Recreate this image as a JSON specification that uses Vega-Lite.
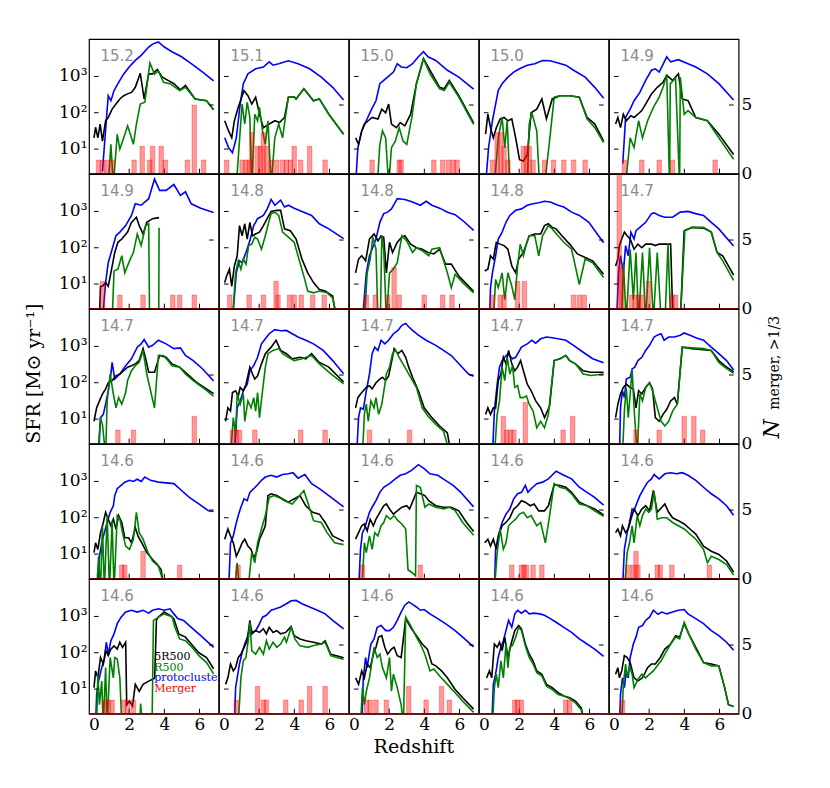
{
  "$schema": "https://vega.github.io/schema/vega-lite/v6.json",
  "background": "white",
  "padding": {"left": 24, "top": 38, "right": 5, "bottom": 5},
  "data": {
    "values": [
      {"p":1,"lab":"15.2"},{"p":2,"lab":"15.1"},{"p":3,"lab":"15.0"},{"p":4,"lab":"15.0"},{"p":5,"lab":"14.9"},
      {"p":6,"lab":"14.9"},{"p":7,"lab":"14.8"},{"p":8,"lab":"14.8"},{"p":9,"lab":"14.8"},{"p":10,"lab":"14.7"},
      {"p":11,"lab":"14.7"},{"p":12,"lab":"14.7"},{"p":13,"lab":"14.7"},{"p":14,"lab":"14.7"},{"p":15,"lab":"14.7"},
      {"p":16,"lab":"14.6"},{"p":17,"lab":"14.6"},{"p":18,"lab":"14.6"},{"p":19,"lab":"14.6"},{"p":20,"lab":"14.6"},
      {"p":21,"lab":"14.6"},{"p":22,"lab":"14.6"},{"p":23,"lab":"14.6"},{"p":24,"lab":"14.6"},{"p":25,"lab":"14.6"},
      {"p":21,"leg":1},

      {"p":1,"s":"a","z":0.48,"v":0.39},{"p":1,"s":"a","z":0.7,"v":1.78},{"p":1,"s":"a","z":0.81,"v":2.47},{"p":1,"s":"a","z":0.96,"v":2.33},{"p":1,"s":"a","z":1.14,"v":2.61},{"p":1,"s":"a","z":1.36,"v":2.8},{"p":1,"s":"a","z":1.69,"v":3.07},{"p":1,"s":"a","z":2.0,"v":3.26},{"p":1,"s":"a","z":2.35,"v":3.44},{"p":1,"s":"a","z":2.68,"v":3.58},{"p":1,"s":"a","z":3.11,"v":3.81},{"p":1,"s":"a","z":3.33,"v":3.89},{"p":1,"s":"a","z":3.66,"v":3.95},{"p":1,"s":"a","z":4.0,"v":3.81},{"p":1,"s":"a","z":4.43,"v":3.68},{"p":1,"s":"a","z":4.98,"v":3.54},{"p":1,"s":"a","z":5.53,"v":3.35},{"p":1,"s":"a","z":6.18,"v":3.12},{"p":1,"s":"a","z":6.8,"v":2.88},
      {"p":1,"s":"b","z":0,"v":1.31},{"p":1,"s":"b","z":0.09,"v":1.6},{"p":1,"s":"b","z":0.22,"v":1.31},{"p":1,"s":"b","z":0.35,"v":1.69},{"p":1,"s":"b","z":0.48,"v":1.22},{"p":1,"s":"b","z":0.66,"v":1.78},{"p":1,"s":"b","z":0.81,"v":1.87},{"p":1,"s":"b","z":1.03,"v":2.1},{"p":1,"s":"b","z":1.25,"v":2.24},{"p":1,"s":"b","z":1.47,"v":2.38},{"p":1,"s":"b","z":1.69,"v":2.47},{"p":1,"s":"b","z":1.91,"v":2.52},{"p":1,"s":"b","z":2.13,"v":2.56},{"p":1,"s":"b","z":2.35,"v":2.7},{"p":1,"s":"b","z":2.63,"v":3.09},{"p":1,"s":"b","z":2.85,"v":2.38},{"p":1,"s":"b","z":3.11,"v":3.07},{"p":1,"s":"b","z":3.33,"v":3.07},{"p":1,"s":"b","z":3.6,"v":3.19},{"p":1,"s":"b","z":3.88,"v":2.98},{"p":1,"s":"b","z":4.21,"v":2.89},{"p":1,"s":"b","z":4.54,"v":2.8},{"p":1,"s":"b","z":4.91,"v":2.63},{"p":1,"s":"b","z":5.2,"v":2.75},{"p":1,"s":"b","z":5.75,"v":2.38},{"p":1,"s":"b","z":6.4,"v":2.33},{"p":1,"s":"b","z":6.8,"v":2.08},
      {"p":1,"s":"c","z":0.81,"v":0},{"p":1,"s":"c","z":0.96,"v":1.13},{"p":1,"s":"c","z":1.1,"v":0},{"p":1,"s":"c","z":1.32,"v":1.41},{"p":1,"s":"c","z":1.47,"v":1.0},{"p":1,"s":"c","z":1.69,"v":1.31},{"p":1,"s":"c","z":1.91,"v":1.64},{"p":1,"s":"c","z":2.13,"v":1.31},{"p":1,"s":"c","z":2.24,"v":1.13},{"p":1,"s":"c","z":2.41,"v":1.69},{"p":1,"s":"c","z":2.63,"v":2.24},{"p":1,"s":"c","z":2.89,"v":2.29},{"p":1,"s":"c","z":3.18,"v":3.37},{"p":1,"s":"c","z":3.44,"v":3.06},{"p":1,"s":"c","z":3.66,"v":3.15},{"p":1,"s":"c","z":3.95,"v":2.84},{"p":1,"s":"c","z":4.32,"v":2.8},{"p":1,"s":"c","z":4.87,"v":2.61},{"p":1,"s":"c","z":5.2,"v":2.7},{"p":1,"s":"c","z":5.75,"v":2.38},{"p":1,"s":"c","z":6.4,"v":2.33},{"p":1,"s":"c","z":6.8,"v":2.08},
      {"p":1,"m":0.26,"n":1},{"p":1,"m":0.48,"n":1},{"p":1,"m":0.75,"n":1},{"p":1,"m":1.03,"n":1},{"p":1,"m":2.28,"n":1},{"p":1,"m":2.74,"n":2},{"p":1,"m":3.16,"n":1},{"p":1,"m":3.33,"n":2},{"p":1,"m":3.82,"n":2},{"p":1,"m":4.06,"n":1},{"p":1,"m":5.31,"n":1},{"p":1,"m":5.7,"n":5},{"p":1,"m":6.23,"n":1},

      {"p":2,"s":"a","z":0.04,"v":1.31},{"p":2,"s":"a","z":0.26,"v":1.04},{"p":2,"s":"a","z":0.48,"v":0.9},{"p":2,"s":"a","z":0.7,"v":1.31},{"p":2,"s":"a","z":0.92,"v":2.24},{"p":2,"s":"a","z":1.1,"v":2.8},{"p":2,"s":"a","z":1.36,"v":3.07},{"p":2,"s":"a","z":1.8,"v":3.21},{"p":2,"s":"a","z":2.24,"v":3.26},{"p":2,"s":"a","z":2.57,"v":3.4},{"p":2,"s":"a","z":2.79,"v":3.31},{"p":2,"s":"a","z":3.11,"v":3.35},{"p":2,"s":"a","z":3.66,"v":3.43},{"p":2,"s":"a","z":4.21,"v":3.35},{"p":2,"s":"a","z":4.87,"v":3.21},{"p":2,"s":"a","z":5.53,"v":2.98},{"p":2,"s":"a","z":6.18,"v":2.7},{"p":2,"s":"a","z":6.8,"v":2.35},
      {"p":2,"s":"b","z":0.04,"v":1.78},{"p":2,"s":"b","z":0.26,"v":1.5},{"p":2,"s":"b","z":0.44,"v":1.31},{"p":2,"s":"b","z":0.59,"v":1.78},{"p":2,"s":"b","z":0.81,"v":2.15},{"p":2,"s":"b","z":1.14,"v":2.61},{"p":2,"s":"b","z":1.36,"v":2.47},{"p":2,"s":"b","z":1.58,"v":2.24},{"p":2,"s":"b","z":1.8,"v":2.43},{"p":2,"s":"b","z":2.02,"v":1.96},{"p":2,"s":"b","z":2.24,"v":1.59},{"p":2,"s":"b","z":2.57,"v":1.69},{"p":2,"s":"b","z":2.89,"v":1.78},{"p":2,"s":"b","z":3.16,"v":1.73},{"p":2,"s":"b","z":3.44,"v":1.87},{"p":2,"s":"b","z":3.66,"v":2.43},{"p":2,"s":"b","z":3.99,"v":2.44},{"p":2,"s":"b","z":4.1,"v":2.38},{"p":2,"s":"b","z":4.54,"v":2.66},{"p":2,"s":"b","z":5.09,"v":2.33},{"p":2,"s":"b","z":5.42,"v":2.38},{"p":2,"s":"b","z":5.96,"v":1.96},{"p":2,"s":"b","z":6.8,"v":1.41},
      {"p":2,"s":"c","z":0.7,"v":0},{"p":2,"s":"c","z":0.92,"v":1.5},{"p":2,"s":"c","z":1.03,"v":2.24},{"p":2,"s":"c","z":1.18,"v":1.69},{"p":2,"s":"c","z":1.32,"v":2.29},{"p":2,"s":"c","z":1.47,"v":1.87},{"p":2,"s":"c","z":1.58,"v":0},{"p":2,"s":"c","z":1.75,"v":1.96},{"p":2,"s":"c","z":1.91,"v":1.78},{"p":2,"s":"c","z":2.02,"v":2.15},{"p":2,"s":"c","z":2.19,"v":1.5},{"p":2,"s":"c","z":2.35,"v":1.13},{"p":2,"s":"c","z":2.5,"v":1.78},{"p":2,"s":"c","z":2.68,"v":0},{"p":2,"s":"c","z":2.89,"v":1.31},{"p":2,"s":"c","z":3.11,"v":1.69},{"p":2,"s":"c","z":3.33,"v":1.31},{"p":2,"s":"c","z":3.49,"v":1.87},{"p":2,"s":"c","z":3.66,"v":2.43},{"p":2,"s":"c","z":3.99,"v":2.44},{"p":2,"s":"c","z":4.1,"v":2.38},{"p":2,"s":"c","z":4.54,"v":2.66},{"p":2,"s":"c","z":5.09,"v":2.33},{"p":2,"s":"c","z":5.42,"v":2.38},{"p":2,"s":"c","z":5.96,"v":1.96},{"p":2,"s":"c","z":6.8,"v":1.41},
      {"p":2,"m":0.15,"n":1},{"p":2,"m":1.03,"n":1},{"p":2,"m":1.25,"n":1},{"p":2,"m":1.43,"n":1},{"p":2,"m":1.58,"n":3},{"p":2,"m":1.91,"n":2},{"p":2,"m":2.08,"n":2},{"p":2,"m":2.24,"n":3},{"p":2,"m":2.41,"n":2},{"p":2,"m":2.68,"n":1},{"p":2,"m":3.0,"n":1},{"p":2,"m":3.33,"n":1},{"p":2,"m":3.55,"n":1},{"p":2,"m":3.77,"n":1},{"p":2,"m":3.99,"n":2},{"p":2,"m":4.36,"n":1},{"p":2,"m":4.87,"n":2},{"p":2,"m":5.75,"n":1},

      {"p":3,"s":"a","z":0.09,"v":0},{"p":3,"s":"a","z":0.22,"v":1.04},{"p":3,"s":"a","z":0.44,"v":1.5},{"p":3,"s":"a","z":0.7,"v":1.78},{"p":3,"s":"a","z":0.96,"v":2.06},{"p":3,"s":"a","z":1.25,"v":2.33},{"p":3,"s":"a","z":1.47,"v":2.8},{"p":3,"s":"a","z":1.69,"v":2.89},{"p":3,"s":"a","z":1.91,"v":2.98},{"p":3,"s":"a","z":2.24,"v":3.12},{"p":3,"s":"a","z":2.46,"v":3.35},{"p":3,"s":"a","z":2.68,"v":3.26},{"p":3,"s":"a","z":3.0,"v":3.24},{"p":3,"s":"a","z":3.33,"v":3.35},{"p":3,"s":"a","z":3.66,"v":3.54},{"p":3,"s":"a","z":3.95,"v":3.68},{"p":3,"s":"a","z":4.21,"v":3.54},{"p":3,"s":"a","z":4.65,"v":3.44},{"p":3,"s":"a","z":5.31,"v":3.17},{"p":3,"s":"a","z":5.96,"v":2.98},{"p":3,"s":"a","z":6.8,"v":2.65},
      {"p":3,"s":"b","z":0.09,"v":1.31},{"p":3,"s":"b","z":0.26,"v":1.13},{"p":3,"s":"b","z":0.44,"v":1.5},{"p":3,"s":"b","z":0.59,"v":1.69},{"p":3,"s":"b","z":0.81,"v":1.78},{"p":3,"s":"b","z":1.03,"v":1.87},{"p":3,"s":"b","z":1.36,"v":1.83},{"p":3,"s":"b","z":1.58,"v":2.1},{"p":3,"s":"b","z":1.8,"v":2.0},{"p":3,"s":"b","z":1.97,"v":2.24},{"p":3,"s":"b","z":2.13,"v":1.69},{"p":3,"s":"b","z":2.41,"v":1.59},{"p":3,"s":"b","z":2.63,"v":1.73},{"p":3,"s":"b","z":2.89,"v":1.64},{"p":3,"s":"b","z":3.22,"v":1.96},{"p":3,"s":"b","z":3.55,"v":2.8},{"p":3,"s":"b","z":3.95,"v":3.49},{"p":3,"s":"b","z":4.32,"v":3.17},{"p":3,"s":"b","z":4.87,"v":2.7},{"p":3,"s":"b","z":5.13,"v":2.66},{"p":3,"s":"b","z":5.42,"v":2.89},{"p":3,"s":"b","z":5.96,"v":2.47},{"p":3,"s":"b","z":6.8,"v":1.72},
      {"p":3,"s":"c","z":1.32,"v":0},{"p":3,"s":"c","z":1.47,"v":1.13},{"p":3,"s":"c","z":1.62,"v":1.5},{"p":3,"s":"c","z":1.8,"v":1.31},{"p":3,"s":"c","z":1.97,"v":0},{"p":3,"s":"c","z":2.13,"v":1.04},{"p":3,"s":"c","z":2.35,"v":1.22},{"p":3,"s":"c","z":2.57,"v":1.59},{"p":3,"s":"c","z":2.79,"v":1.22},{"p":3,"s":"c","z":3.0,"v":1.13},{"p":3,"s":"c","z":3.29,"v":1.87},{"p":3,"s":"c","z":3.55,"v":2.8},{"p":3,"s":"c","z":3.95,"v":3.49},{"p":3,"s":"c","z":4.32,"v":3.07},{"p":3,"s":"c","z":4.87,"v":2.66},{"p":3,"s":"c","z":5.13,"v":2.61},{"p":3,"s":"c","z":5.42,"v":2.84},{"p":3,"s":"c","z":5.96,"v":2.43},{"p":3,"s":"c","z":6.8,"v":1.68},
      {"p":3,"m":1.03,"n":1},{"p":3,"m":2.57,"n":1},{"p":3,"m":2.68,"n":1},{"p":3,"m":4.54,"n":1},{"p":3,"m":5.04,"n":1},{"p":3,"m":5.37,"n":1},{"p":3,"m":5.64,"n":1},{"p":3,"m":5.86,"n":1},

      {"p":4,"s":"a","z":0.09,"v":0},{"p":4,"s":"a","z":0.26,"v":1.04},{"p":4,"s":"a","z":0.48,"v":1.78},{"p":4,"s":"a","z":0.66,"v":2.24},{"p":4,"s":"a","z":0.81,"v":2.61},{"p":4,"s":"a","z":1.03,"v":2.8},{"p":4,"s":"a","z":1.36,"v":2.98},{"p":4,"s":"a","z":1.69,"v":3.12},{"p":4,"s":"a","z":2.02,"v":3.21},{"p":4,"s":"a","z":2.46,"v":3.31},{"p":4,"s":"a","z":2.89,"v":3.35},{"p":4,"s":"a","z":3.33,"v":3.44},{"p":4,"s":"a","z":3.77,"v":3.43},{"p":4,"s":"a","z":4.21,"v":3.37},{"p":4,"s":"a","z":4.65,"v":3.31},{"p":4,"s":"a","z":5.09,"v":3.17},{"p":4,"s":"a","z":5.75,"v":2.98},{"p":4,"s":"a","z":6.3,"v":2.7},{"p":4,"s":"a","z":6.8,"v":2.4},
      {"p":4,"s":"b","z":0.09,"v":1.41},{"p":4,"s":"b","z":0.22,"v":1.96},{"p":4,"s":"b","z":0.37,"v":1.59},{"p":4,"s":"b","z":0.53,"v":1.31},{"p":4,"s":"b","z":0.7,"v":1.59},{"p":4,"s":"b","z":0.92,"v":1.83},{"p":4,"s":"b","z":1.14,"v":1.87},{"p":4,"s":"b","z":1.36,"v":1.78},{"p":4,"s":"b","z":1.58,"v":1.83},{"p":4,"s":"b","z":1.8,"v":1.31},{"p":4,"s":"b","z":2.02,"v":0.71},{"p":4,"s":"b","z":2.24,"v":0.67},{"p":4,"s":"b","z":2.46,"v":0.85},{"p":4,"s":"b","z":2.68,"v":2.0},{"p":4,"s":"b","z":3.0,"v":2.1},{"p":4,"s":"b","z":3.29,"v":2.38},{"p":4,"s":"b","z":3.55,"v":1.83},{"p":4,"s":"b","z":3.88,"v":2.38},{"p":4,"s":"b","z":4.32,"v":2.47},{"p":4,"s":"b","z":4.87,"v":2.47},{"p":4,"s":"b","z":5.42,"v":2.43},{"p":4,"s":"b","z":5.86,"v":1.87},{"p":4,"s":"b","z":6.3,"v":1.69},{"p":4,"s":"b","z":6.8,"v":1.22},
      {"p":4,"s":"c","z":0.59,"v":0},{"p":4,"s":"c","z":0.81,"v":1.31},{"p":4,"s":"c","z":1.03,"v":1.87},{"p":4,"s":"c","z":1.18,"v":1.04},{"p":4,"s":"c","z":1.32,"v":1.78},{"p":4,"s":"c","z":1.47,"v":0},{"p":4,"s":"c","z":2.46,"v":0},{"p":4,"s":"c","z":2.57,"v":1.69},{"p":4,"s":"c","z":2.72,"v":2.0},{"p":4,"s":"c","z":3.0,"v":1.5},{"p":4,"s":"c","z":3.16,"v":0},{"p":4,"s":"c","z":3.44,"v":0},{"p":4,"s":"c","z":3.77,"v":1.41},{"p":4,"s":"c","z":3.99,"v":2.43},{"p":4,"s":"c","z":4.32,"v":2.47},{"p":4,"s":"c","z":4.87,"v":2.47},{"p":4,"s":"c","z":5.42,"v":2.43},{"p":4,"s":"c","z":5.86,"v":1.83},{"p":4,"s":"c","z":6.3,"v":1.59},{"p":4,"s":"c","z":6.8,"v":1.18},
      {"p":4,"m":0.48,"n":1},{"p":4,"m":0.75,"n":3},{"p":4,"m":0.96,"n":3},{"p":4,"m":1.14,"n":2},{"p":4,"m":1.36,"n":1},{"p":4,"m":2.24,"n":2},{"p":4,"m":2.41,"n":2},{"p":4,"m":2.57,"n":2},{"p":4,"m":2.79,"n":1},{"p":4,"m":3.44,"n":1},{"p":4,"m":3.95,"n":1},{"p":4,"m":4.54,"n":1},{"p":4,"m":5.09,"n":1},{"p":4,"m":5.75,"n":1},

      {"p":5,"s":"a","z":0.5,"v":0.6},{"p":5,"s":"a","z":0.66,"v":1.87},{"p":5,"s":"a","z":0.92,"v":2.1},{"p":5,"s":"a","z":1.14,"v":2.33},{"p":5,"s":"a","z":1.47,"v":2.56},{"p":5,"s":"a","z":1.8,"v":2.89},{"p":5,"s":"a","z":2.13,"v":3.17},{"p":5,"s":"a","z":2.35,"v":3.21},{"p":5,"s":"a","z":2.57,"v":3.12},{"p":5,"s":"a","z":3.0,"v":3.54},{"p":5,"s":"a","z":3.22,"v":3.4},{"p":5,"s":"a","z":3.66,"v":3.46},{"p":5,"s":"a","z":4.21,"v":3.35},{"p":5,"s":"a","z":4.65,"v":3.26},{"p":5,"s":"a","z":5.31,"v":3.07},{"p":5,"s":"a","z":5.96,"v":2.8},{"p":5,"s":"a","z":6.8,"v":2.35},
      {"p":5,"s":"b","z":0.09,"v":1.69},{"p":5,"s":"b","z":0.22,"v":1.87},{"p":5,"s":"b","z":0.37,"v":1.59},{"p":5,"s":"b","z":0.53,"v":1.96},{"p":5,"s":"b","z":0.7,"v":1.78},{"p":5,"s":"b","z":0.96,"v":1.92},{"p":5,"s":"b","z":1.14,"v":1.87},{"p":5,"s":"b","z":1.36,"v":1.96},{"p":5,"s":"b","z":1.58,"v":2.06},{"p":5,"s":"b","z":1.8,"v":2.24},{"p":5,"s":"b","z":2.13,"v":2.52},{"p":5,"s":"b","z":2.46,"v":2.7},{"p":5,"s":"b","z":2.79,"v":2.84},{"p":5,"s":"b","z":3.0,"v":3.03},{"p":5,"s":"b","z":3.33,"v":2.89},{"p":5,"s":"b","z":3.66,"v":3.07},{"p":5,"s":"b","z":3.88,"v":2.38},{"p":5,"s":"b","z":4.21,"v":2.33},{"p":5,"s":"b","z":4.65,"v":1.87},{"p":5,"s":"b","z":5.31,"v":1.78},{"p":5,"s":"b","z":5.96,"v":1.41},{"p":5,"s":"b","z":6.8,"v":0.85},
      {"p":5,"s":"c","z":0.66,"v":0},{"p":5,"s":"c","z":0.92,"v":1.31},{"p":5,"s":"c","z":1.14,"v":1.04},{"p":5,"s":"c","z":1.4,"v":1.78},{"p":5,"s":"c","z":1.62,"v":1.31},{"p":5,"s":"c","z":1.91,"v":1.78},{"p":5,"s":"c","z":2.24,"v":2.15},{"p":5,"s":"c","z":2.57,"v":2.43},{"p":5,"s":"c","z":2.79,"v":2.7},{"p":5,"s":"c","z":3.0,"v":3.06},{"p":5,"s":"c","z":3.16,"v":0},{"p":5,"s":"c","z":3.2,"v":2.8},{"p":5,"s":"c","z":3.5,"v":2.95},{"p":5,"s":"c","z":3.73,"v":0},{"p":5,"s":"c","z":3.77,"v":2.98},{"p":5,"s":"c","z":3.99,"v":1.96},{"p":5,"s":"c","z":4.21,"v":2.06},{"p":5,"s":"c","z":4.65,"v":1.87},{"p":5,"s":"c","z":5.31,"v":1.78},{"p":5,"s":"c","z":5.96,"v":1.31},{"p":5,"s":"c","z":6.8,"v":0.72},
      {"p":5,"m":0.59,"n":1},{"p":5,"m":1.58,"n":1},{"p":5,"m":2.57,"n":1},{"p":5,"m":3.33,"n":1},{"p":5,"m":5.75,"n":1},

      {"p":6,"s":"a","z":0.48,"v":0},{"p":6,"s":"a","z":0.66,"v":1.04},{"p":6,"s":"a","z":0.81,"v":1.59},{"p":6,"s":"a","z":1.03,"v":1.96},{"p":6,"s":"a","z":1.25,"v":2.33},{"p":6,"s":"a","z":1.47,"v":2.43},{"p":6,"s":"a","z":1.8,"v":2.61},{"p":6,"s":"a","z":2.13,"v":2.89},{"p":6,"s":"a","z":2.35,"v":3.21},{"p":6,"s":"a","z":2.68,"v":3.17},{"p":6,"s":"a","z":3.11,"v":3.35},{"p":6,"s":"a","z":3.44,"v":3.89},{"p":6,"s":"a","z":3.73,"v":3.58},{"p":6,"s":"a","z":4.1,"v":3.58},{"p":6,"s":"a","z":4.54,"v":3.74},{"p":6,"s":"a","z":4.91,"v":3.44},{"p":6,"s":"a","z":5.2,"v":3.54},{"p":6,"s":"a","z":5.53,"v":3.21},{"p":6,"s":"a","z":6.07,"v":3.09},{"p":6,"s":"a","z":6.8,"v":2.97},
      {"p":6,"s":"b","z":0.3,"v":0},{"p":6,"s":"b","z":0.37,"v":0.94},{"p":6,"s":"b","z":0.48,"v":0.94},{"p":6,"s":"b","z":0.66,"v":1.04},{"p":6,"s":"b","z":0.81,"v":0.94},{"p":6,"s":"b","z":0.96,"v":1.31},{"p":6,"s":"b","z":1.18,"v":1.87},{"p":6,"s":"b","z":1.36,"v":2.15},{"p":6,"s":"b","z":1.58,"v":2.24},{"p":6,"s":"b","z":1.91,"v":2.43},{"p":6,"s":"b","z":2.13,"v":2.7},{"p":6,"s":"b","z":2.41,"v":2.84},{"p":6,"s":"b","z":2.57,"v":2.61},{"p":6,"s":"b","z":2.79,"v":2.38},{"p":6,"s":"b","z":3.0,"v":2.7},{"p":6,"s":"b","z":3.33,"v":2.8},{"p":6,"s":"b","z":3.7,"v":2.83},
      {"p":6,"s":"c","z":1.03,"v":0},{"p":6,"s":"c","z":1.14,"v":1.36},{"p":6,"s":"c","z":1.36,"v":1.41},{"p":6,"s":"c","z":1.58,"v":1.78},{"p":6,"s":"c","z":1.75,"v":1.31},{"p":6,"s":"c","z":2.02,"v":1.64},{"p":6,"s":"c","z":2.24,"v":1.87},{"p":6,"s":"c","z":2.46,"v":2.38},{"p":6,"s":"c","z":2.68,"v":2.06},{"p":6,"s":"c","z":2.94,"v":2.61},{"p":6,"s":"c","z":3.11,"v":2.66},{"p":6,"s":"c","z":3.16,"v":0},{"p":6,"s":"c","z":3.68,"v":0},{"p":6,"s":"c","z":3.7,"v":2.55},
      {"p":6,"m":0.48,"n":2},{"p":6,"m":1.47,"n":1},{"p":6,"m":2.79,"n":1},{"p":6,"m":4.48,"n":1},{"p":6,"m":4.87,"n":1},{"p":6,"m":5.7,"n":1},

      {"p":7,"s":"a","z":0.48,"v":0},{"p":7,"s":"a","z":0.7,"v":1.31},{"p":7,"s":"a","z":0.88,"v":1.64},{"p":7,"s":"a","z":1.03,"v":1.59},{"p":7,"s":"a","z":1.25,"v":1.87},{"p":7,"s":"a","z":1.47,"v":2.19},{"p":7,"s":"a","z":1.69,"v":2.61},{"p":7,"s":"a","z":1.91,"v":2.8},{"p":7,"s":"a","z":2.24,"v":2.89},{"p":7,"s":"a","z":2.46,"v":3.07},{"p":7,"s":"a","z":2.68,"v":3.33},{"p":7,"s":"a","z":2.89,"v":3.17},{"p":7,"s":"a","z":3.22,"v":3.31},{"p":7,"s":"a","z":3.44,"v":3.12},{"p":7,"s":"a","z":3.66,"v":3.17},{"p":7,"s":"a","z":3.99,"v":3.09},{"p":7,"s":"a","z":4.43,"v":3.0},{"p":7,"s":"a","z":4.98,"v":2.89},{"p":7,"s":"a","z":5.42,"v":2.66},{"p":7,"s":"a","z":5.96,"v":2.52},{"p":7,"s":"a","z":6.8,"v":2.25},
      {"p":7,"s":"b","z":0.04,"v":1.04},{"p":7,"s":"b","z":0.15,"v":1.22},{"p":7,"s":"b","z":0.31,"v":1.41},{"p":7,"s":"b","z":0.44,"v":0.94},{"p":7,"s":"b","z":0.59,"v":1.5},{"p":7,"s":"b","z":0.75,"v":1.78},{"p":7,"s":"b","z":0.88,"v":2.61},{"p":7,"s":"b","z":1.03,"v":2.33},{"p":7,"s":"b","z":1.18,"v":2.66},{"p":7,"s":"b","z":1.32,"v":2.24},{"p":7,"s":"b","z":1.47,"v":2.7},{"p":7,"s":"b","z":1.62,"v":2.33},{"p":7,"s":"b","z":1.8,"v":2.38},{"p":7,"s":"b","z":2.02,"v":2.43},{"p":7,"s":"b","z":2.24,"v":2.61},{"p":7,"s":"b","z":2.5,"v":2.84},{"p":7,"s":"b","z":2.68,"v":3.0},{"p":7,"s":"b","z":3.0,"v":3.03},{"p":7,"s":"b","z":3.22,"v":3.03},{"p":7,"s":"b","z":3.44,"v":2.52},{"p":7,"s":"b","z":3.77,"v":2.47},{"p":7,"s":"b","z":4.1,"v":2.24},{"p":7,"s":"b","z":4.43,"v":1.69},{"p":7,"s":"b","z":4.76,"v":1.31},{"p":7,"s":"b","z":5.09,"v":1.04},{"p":7,"s":"b","z":5.42,"v":0.85},{"p":7,"s":"b","z":5.75,"v":0.81},{"p":7,"s":"b","z":6.18,"v":0.67},{"p":7,"s":"b","z":6.4,"v":0},
      {"p":7,"s":"c","z":0.48,"v":0},{"p":7,"s":"c","z":0.66,"v":1.31},{"p":7,"s":"c","z":0.81,"v":1.64},{"p":7,"s":"c","z":0.96,"v":1.41},{"p":7,"s":"c","z":1.1,"v":1.69},{"p":7,"s":"c","z":1.25,"v":1.55},{"p":7,"s":"c","z":1.4,"v":2.06},{"p":7,"s":"c","z":1.58,"v":2.1},{"p":7,"s":"c","z":1.75,"v":2.29},{"p":7,"s":"c","z":1.91,"v":2.24},{"p":7,"s":"c","z":2.13,"v":1.96},{"p":7,"s":"c","z":2.35,"v":2.33},{"p":7,"s":"c","z":2.52,"v":2.66},{"p":7,"s":"c","z":2.68,"v":2.94},{"p":7,"s":"c","z":2.89,"v":2.98},{"p":7,"s":"c","z":3.11,"v":2.89},{"p":7,"s":"c","z":3.33,"v":2.43},{"p":7,"s":"c","z":3.66,"v":2.29},{"p":7,"s":"c","z":3.99,"v":2.15},{"p":7,"s":"c","z":4.32,"v":1.59},{"p":7,"s":"c","z":4.54,"v":1.22},{"p":7,"s":"c","z":4.76,"v":0.81},{"p":7,"s":"c","z":5.09,"v":0.76},{"p":7,"s":"c","z":5.42,"v":0.81},{"p":7,"s":"c","z":5.86,"v":0.76},{"p":7,"s":"c","z":6.18,"v":0.62},{"p":7,"s":"c","z":6.45,"v":0},
      {"p":7,"m":0.33,"n":1},{"p":7,"m":1.43,"n":1},{"p":7,"m":2.24,"n":1},{"p":7,"m":2.96,"n":2},{"p":7,"m":3.07,"n":1},{"p":7,"m":3.73,"n":1},{"p":7,"m":3.99,"n":1},{"p":7,"m":4.39,"n":1},{"p":7,"m":5.04,"n":1},{"p":7,"m":5.7,"n":1},

      {"p":8,"s":"a","z":0.48,"v":0},{"p":8,"s":"a","z":0.7,"v":1.31},{"p":8,"s":"a","z":0.88,"v":1.78},{"p":8,"s":"a","z":1.03,"v":1.96},{"p":8,"s":"a","z":1.25,"v":2.24},{"p":8,"s":"a","z":1.47,"v":2.7},{"p":8,"s":"a","z":1.69,"v":2.94},{"p":8,"s":"a","z":1.91,"v":2.98},{"p":8,"s":"a","z":2.13,"v":3.07},{"p":8,"s":"a","z":2.46,"v":3.35},{"p":8,"s":"a","z":2.89,"v":3.33},{"p":8,"s":"a","z":3.33,"v":3.26},{"p":8,"s":"a","z":3.77,"v":3.17},{"p":8,"s":"a","z":4.1,"v":3.28},{"p":8,"s":"a","z":4.43,"v":3.17},{"p":8,"s":"a","z":4.87,"v":3.09},{"p":8,"s":"a","z":5.31,"v":2.98},{"p":8,"s":"a","z":5.75,"v":2.91},{"p":8,"s":"a","z":6.18,"v":2.75},{"p":8,"s":"a","z":6.8,"v":2.48},
      {"p":8,"s":"b","z":0.09,"v":1.31},{"p":8,"s":"b","z":0.26,"v":1.69},{"p":8,"s":"b","z":0.44,"v":1.78},{"p":8,"s":"b","z":0.66,"v":1.64},{"p":8,"s":"b","z":0.88,"v":2.24},{"p":8,"s":"b","z":1.14,"v":2.38},{"p":8,"s":"b","z":1.36,"v":2.19},{"p":8,"s":"b","z":1.54,"v":2.33},{"p":8,"s":"b","z":1.69,"v":2.29},{"p":8,"s":"b","z":1.84,"v":1.31},{"p":8,"s":"b","z":2.02,"v":2.15},{"p":8,"s":"b","z":2.19,"v":1.87},{"p":8,"s":"b","z":2.46,"v":2.15},{"p":8,"s":"b","z":2.72,"v":2.29},{"p":8,"s":"b","z":2.89,"v":2.33},{"p":8,"s":"b","z":3.22,"v":2.1},{"p":8,"s":"b","z":3.55,"v":2.0},{"p":8,"s":"b","z":3.88,"v":1.96},{"p":8,"s":"b","z":4.21,"v":1.87},{"p":8,"s":"b","z":4.54,"v":1.83},{"p":8,"s":"b","z":4.87,"v":1.96},{"p":8,"s":"b","z":5.2,"v":1.55},{"p":8,"s":"b","z":5.53,"v":1.55},{"p":8,"s":"b","z":5.96,"v":1.22},{"p":8,"s":"b","z":6.8,"v":0.8},
      {"p":8,"s":"c","z":0.59,"v":0},{"p":8,"s":"c","z":0.75,"v":1.31},{"p":8,"s":"c","z":0.92,"v":1.69},{"p":8,"s":"c","z":1.07,"v":2.29},{"p":8,"s":"c","z":1.25,"v":1.96},{"p":8,"s":"c","z":1.36,"v":0},{"p":8,"s":"c","z":1.5,"v":0},{"p":8,"s":"c","z":1.58,"v":2.33},{"p":8,"s":"c","z":1.69,"v":1.96},{"p":8,"s":"c","z":1.84,"v":0},{"p":8,"s":"c","z":2.02,"v":1.31},{"p":8,"s":"c","z":2.24,"v":1.41},{"p":8,"s":"c","z":2.46,"v":1.59},{"p":8,"s":"c","z":2.72,"v":2.33},{"p":8,"s":"c","z":3.0,"v":2.19},{"p":8,"s":"c","z":3.33,"v":1.87},{"p":8,"s":"c","z":3.55,"v":2.0},{"p":8,"s":"c","z":3.88,"v":1.92},{"p":8,"s":"c","z":4.25,"v":1.78},{"p":8,"s":"c","z":4.43,"v":1.96},{"p":8,"s":"c","z":4.87,"v":2.0},{"p":8,"s":"c","z":5.31,"v":1.31},{"p":8,"s":"c","z":5.53,"v":0.9},{"p":8,"s":"c","z":5.75,"v":1.27},{"p":8,"s":"c","z":6.18,"v":1.04},{"p":8,"s":"c","z":6.8,"v":0.76},
      {"p":8,"m":0.7,"n":1},{"p":8,"m":1.21,"n":1},{"p":8,"m":1.91,"n":1},{"p":8,"m":2.28,"n":3},{"p":8,"m":2.57,"n":1},{"p":8,"m":3.99,"n":1},{"p":8,"m":5.04,"n":1},{"p":8,"m":5.57,"n":1},

      {"p":9,"s":"a","z":0.31,"v":0},{"p":9,"s":"a","z":0.37,"v":0.9},{"p":9,"s":"a","z":0.48,"v":1.31},{"p":9,"s":"a","z":0.66,"v":1.78},{"p":9,"s":"a","z":0.81,"v":2.24},{"p":9,"s":"a","z":1.03,"v":2.43},{"p":9,"s":"a","z":1.25,"v":2.7},{"p":9,"s":"a","z":1.47,"v":2.89},{"p":9,"s":"a","z":1.8,"v":3.03},{"p":9,"s":"a","z":2.13,"v":3.07},{"p":9,"s":"a","z":2.46,"v":3.17},{"p":9,"s":"a","z":2.79,"v":3.21},{"p":9,"s":"a","z":3.11,"v":3.24},{"p":9,"s":"a","z":3.44,"v":3.28},{"p":9,"s":"a","z":3.77,"v":3.26},{"p":9,"s":"a","z":4.21,"v":3.17},{"p":9,"s":"a","z":4.54,"v":3.12},{"p":9,"s":"a","z":4.98,"v":2.98},{"p":9,"s":"a","z":5.42,"v":2.89},{"p":9,"s":"a","z":5.96,"v":2.7},{"p":9,"s":"a","z":6.8,"v":2.14},
      {"p":9,"s":"b","z":0.04,"v":1.36},{"p":9,"s":"b","z":0.22,"v":1.41},{"p":9,"s":"b","z":0.37,"v":1.78},{"p":9,"s":"b","z":0.53,"v":1.69},{"p":9,"s":"b","z":0.7,"v":2.15},{"p":9,"s":"b","z":0.92,"v":2.1},{"p":9,"s":"b","z":1.14,"v":2.06},{"p":9,"s":"b","z":1.36,"v":1.96},{"p":9,"s":"b","z":1.58,"v":1.5},{"p":9,"s":"b","z":1.8,"v":1.31},{"p":9,"s":"b","z":1.97,"v":1.69},{"p":9,"s":"b","z":2.24,"v":1.87},{"p":9,"s":"b","z":2.57,"v":2.33},{"p":9,"s":"b","z":2.89,"v":2.38},{"p":9,"s":"b","z":3.22,"v":2.38},{"p":9,"s":"b","z":3.44,"v":2.61},{"p":9,"s":"b","z":3.66,"v":2.66},{"p":9,"s":"b","z":3.88,"v":2.56},{"p":9,"s":"b","z":4.1,"v":2.52},{"p":9,"s":"b","z":4.43,"v":2.33},{"p":9,"s":"b","z":4.87,"v":2.1},{"p":9,"s":"b","z":5.31,"v":1.83},{"p":9,"s":"b","z":5.75,"v":1.73},{"p":9,"s":"b","z":6.18,"v":1.64},{"p":9,"s":"b","z":6.8,"v":1.27},
      {"p":9,"s":"c","z":0.53,"v":0},{"p":9,"s":"c","z":0.66,"v":1.13},{"p":9,"s":"c","z":0.81,"v":0.9},{"p":9,"s":"c","z":1.03,"v":1.31},{"p":9,"s":"c","z":1.18,"v":0.57},{"p":9,"s":"c","z":1.36,"v":1.31},{"p":9,"s":"c","z":1.58,"v":0.94},{"p":9,"s":"c","z":1.75,"v":0.57},{"p":9,"s":"c","z":1.91,"v":1.5},{"p":9,"s":"c","z":2.06,"v":2.1},{"p":9,"s":"c","z":2.24,"v":1.78},{"p":9,"s":"c","z":2.41,"v":2.1},{"p":9,"s":"c","z":2.57,"v":2.33},{"p":9,"s":"c","z":2.89,"v":2.33},{"p":9,"s":"c","z":3.11,"v":1.78},{"p":9,"s":"c","z":3.33,"v":2.33},{"p":9,"s":"c","z":3.66,"v":2.61},{"p":9,"s":"c","z":3.88,"v":2.52},{"p":9,"s":"c","z":4.21,"v":2.33},{"p":9,"s":"c","z":4.54,"v":2.15},{"p":9,"s":"c","z":4.98,"v":1.96},{"p":9,"s":"c","z":5.42,"v":0.99},{"p":9,"s":"c","z":5.75,"v":1.69},{"p":9,"s":"c","z":6.18,"v":1.59},{"p":9,"s":"c","z":6.8,"v":1.18},
      {"p":9,"m":0.48,"n":1},{"p":9,"m":0.92,"n":1},{"p":9,"m":1.14,"n":1},{"p":9,"m":1.91,"n":2},{"p":9,"m":2.3,"n":2},{"p":9,"m":5.09,"n":1},{"p":9,"m":5.42,"n":1},{"p":9,"m":5.7,"n":1},

      {"p":10,"s":"a","z":0.15,"v":0},{"p":10,"s":"a","z":0.26,"v":1.31},{"p":10,"s":"a","z":0.37,"v":1.78},{"p":10,"s":"a","z":0.53,"v":1.31},{"p":10,"s":"a","z":0.66,"v":2.06},{"p":10,"s":"a","z":0.81,"v":1.78},{"p":10,"s":"a","z":0.96,"v":2.43},{"p":10,"s":"a","z":1.14,"v":2.24},{"p":10,"s":"a","z":1.25,"v":2.47},{"p":10,"s":"a","z":1.47,"v":2.56},{"p":10,"s":"a","z":1.8,"v":2.7},{"p":10,"s":"a","z":2.13,"v":2.94},{"p":10,"s":"a","z":2.28,"v":2.96},{"p":10,"s":"a","z":2.57,"v":2.89},{"p":10,"s":"a","z":2.89,"v":2.84},{"p":10,"s":"a","z":3.33,"v":2.84},{"p":10,"s":"a","z":3.77,"v":2.98},{"p":10,"s":"a","z":4.21,"v":3.0},{"p":10,"s":"a","z":4.65,"v":2.94},{"p":10,"s":"a","z":5.09,"v":2.89},{"p":10,"s":"a","z":5.53,"v":2.7},{"p":10,"s":"a","z":5.96,"v":2.52},{"p":10,"s":"a","z":6.8,"v":2.05},
      {"p":10,"s":"b","z":0.09,"v":1.5},{"p":10,"s":"b","z":0.22,"v":1.69},{"p":10,"s":"b","z":0.31,"v":2.06},{"p":10,"s":"b","z":0.44,"v":2.24},{"p":10,"s":"b","z":0.59,"v":2.43},{"p":10,"s":"b","z":0.75,"v":2.33},{"p":10,"s":"b","z":0.92,"v":2.24},{"p":10,"s":"b","z":1.14,"v":1.96},{"p":10,"s":"b","z":1.36,"v":2.1},{"p":10,"s":"b","z":1.58,"v":2.0},{"p":10,"s":"b","z":1.8,"v":2.1},{"p":10,"s":"b","z":2.13,"v":2.1},{"p":10,"s":"b","z":2.35,"v":2.06},{"p":10,"s":"b","z":2.57,"v":2.1},{"p":10,"s":"b","z":2.89,"v":2.1},{"p":10,"s":"b","z":3.22,"v":2.1},{"p":10,"s":"b","z":3.35,"v":0},{"p":10,"s":"b","z":3.77,"v":0},{"p":10,"s":"b","z":3.99,"v":2.47},{"p":10,"s":"b","z":4.43,"v":2.56},{"p":10,"s":"b","z":5.09,"v":2.54},{"p":10,"s":"b","z":5.53,"v":2.43},{"p":10,"s":"b","z":5.86,"v":1.87},{"p":10,"s":"b","z":6.18,"v":1.78},{"p":10,"s":"b","z":6.8,"v":1.25},
      {"p":10,"s":"c","z":0.44,"v":0},{"p":10,"s":"c","z":0.53,"v":1.59},{"p":10,"s":"c","z":0.7,"v":0},{"p":10,"s":"c","z":0.92,"v":1.96},{"p":10,"s":"c","z":1.1,"v":0.57},{"p":10,"s":"c","z":1.25,"v":1.87},{"p":10,"s":"c","z":1.4,"v":0},{"p":10,"s":"c","z":1.62,"v":1.87},{"p":10,"s":"c","z":1.8,"v":0},{"p":10,"s":"c","z":2.02,"v":2.0},{"p":10,"s":"c","z":2.24,"v":0},{"p":10,"s":"c","z":2.46,"v":1.87},{"p":10,"s":"c","z":2.68,"v":0},{"p":10,"s":"c","z":2.9,"v":0},{"p":10,"s":"c","z":3.07,"v":2.1},{"p":10,"s":"c","z":3.22,"v":0},{"p":10,"s":"c","z":3.77,"v":0},{"p":10,"s":"c","z":4.03,"v":2.47},{"p":10,"s":"c","z":4.43,"v":2.56},{"p":10,"s":"c","z":5.09,"v":2.56},{"p":10,"s":"c","z":5.53,"v":2.43},{"p":10,"s":"c","z":5.86,"v":1.87},{"p":10,"s":"c","z":6.18,"v":1.64},{"p":10,"s":"c","z":6.8,"v":1.1},
      {"p":10,"m":0.3,"n":10},{"p":10,"m":0.45,"n":3},{"p":10,"m":1.0,"n":1},{"p":10,"m":1.2,"n":1},{"p":10,"m":1.4,"n":1},{"p":10,"m":1.6,"n":1},{"p":10,"m":1.95,"n":2},{"p":10,"m":3.3,"n":1},{"p":10,"m":3.5,"n":1},

      {"p":11,"s":"a","z":0.26,"v":0},{"p":11,"s":"a","z":0.37,"v":1.04},{"p":11,"s":"a","z":0.53,"v":1.13},{"p":11,"s":"a","z":0.66,"v":1.41},{"p":11,"s":"a","z":0.81,"v":1.78},{"p":11,"s":"a","z":0.96,"v":2.24},{"p":11,"s":"a","z":1.03,"v":2.56},{"p":11,"s":"a","z":1.18,"v":2.1},{"p":11,"s":"a","z":1.47,"v":2.24},{"p":11,"s":"a","z":1.8,"v":2.47},{"p":11,"s":"a","z":2.13,"v":2.66},{"p":11,"s":"a","z":2.46,"v":2.98},{"p":11,"s":"a","z":2.68,"v":3.07},{"p":11,"s":"a","z":2.85,"v":3.19},{"p":11,"s":"a","z":3.11,"v":2.98},{"p":11,"s":"a","z":3.33,"v":3.03},{"p":11,"s":"a","z":3.66,"v":3.17},{"p":11,"s":"a","z":4.1,"v":3.07},{"p":11,"s":"a","z":4.54,"v":2.94},{"p":11,"s":"a","z":4.91,"v":2.96},{"p":11,"s":"a","z":5.2,"v":2.75},{"p":11,"s":"a","z":5.64,"v":2.61},{"p":11,"s":"a","z":6.18,"v":2.38},{"p":11,"s":"a","z":6.8,"v":2.05},
      {"p":11,"s":"b","z":0,"v":0.94},{"p":11,"s":"b","z":0.15,"v":1.31},{"p":11,"s":"b","z":0.31,"v":1.5},{"p":11,"s":"b","z":0.48,"v":1.69},{"p":11,"s":"b","z":0.66,"v":1.83},{"p":11,"s":"b","z":0.81,"v":2.0},{"p":11,"s":"b","z":1.03,"v":2.06},{"p":11,"s":"b","z":1.25,"v":2.19},{"p":11,"s":"b","z":1.47,"v":2.24},{"p":11,"s":"b","z":1.69,"v":2.33},{"p":11,"s":"b","z":1.91,"v":2.43},{"p":11,"s":"b","z":2.13,"v":2.47},{"p":11,"s":"b","z":2.35,"v":2.52},{"p":11,"s":"b","z":2.57,"v":2.61},{"p":11,"s":"b","z":2.79,"v":2.94},{"p":11,"s":"b","z":2.94,"v":2.66},{"p":11,"s":"b","z":3.11,"v":2.29},{"p":11,"s":"b","z":3.44,"v":2.29},{"p":11,"s":"b","z":3.73,"v":2.75},{"p":11,"s":"b","z":4.1,"v":2.7},{"p":11,"s":"b","z":4.43,"v":2.52},{"p":11,"s":"b","z":4.87,"v":2.43},{"p":11,"s":"b","z":5.31,"v":2.24},{"p":11,"s":"b","z":5.86,"v":2.0},{"p":11,"s":"b","z":6.8,"v":1.7},
      {"p":11,"s":"c","z":0.22,"v":0},{"p":11,"s":"c","z":0.37,"v":1.04},{"p":11,"s":"c","z":0.48,"v":0.85},{"p":11,"s":"c","z":0.66,"v":0},{"p":11,"s":"c","z":0.75,"v":1.5},{"p":11,"s":"c","z":0.92,"v":2.24},{"p":11,"s":"c","z":1.1,"v":1.69},{"p":11,"s":"c","z":1.25,"v":1.31},{"p":11,"s":"c","z":1.4,"v":1.59},{"p":11,"s":"c","z":1.58,"v":1.41},{"p":11,"s":"c","z":1.8,"v":1.73},{"p":11,"s":"c","z":1.91,"v":2.06},{"p":11,"s":"c","z":2.13,"v":2.33},{"p":11,"s":"c","z":2.35,"v":2.47},{"p":11,"s":"c","z":2.57,"v":2.56},{"p":11,"s":"c","z":2.79,"v":2.89},{"p":11,"s":"c","z":3.0,"v":2.24},{"p":11,"s":"c","z":3.44,"v":1.31},{"p":11,"s":"c","z":3.66,"v":2.75},{"p":11,"s":"c","z":3.95,"v":2.75},{"p":11,"s":"c","z":4.21,"v":2.61},{"p":11,"s":"c","z":4.43,"v":2.47},{"p":11,"s":"c","z":4.87,"v":2.43},{"p":11,"s":"c","z":5.2,"v":2.24},{"p":11,"s":"c","z":5.64,"v":2.06},{"p":11,"s":"c","z":6.18,"v":1.87},{"p":11,"s":"c","z":6.8,"v":1.63},
      {"p":11,"m":1.36,"n":1},{"p":11,"m":2.24,"n":1},{"p":11,"m":5.7,"n":2},

      {"p":12,"s":"a","z":0.59,"v":0},{"p":12,"s":"a","z":0.75,"v":1.31},{"p":12,"s":"a","z":0.92,"v":1.5},{"p":12,"s":"a","z":1.1,"v":1.78},{"p":12,"s":"a","z":1.32,"v":1.96},{"p":12,"s":"a","z":1.47,"v":2.33},{"p":12,"s":"a","z":1.69,"v":2.47},{"p":12,"s":"a","z":1.91,"v":2.7},{"p":12,"s":"a","z":2.13,"v":3.07},{"p":12,"s":"a","z":2.35,"v":3.21},{"p":12,"s":"a","z":2.57,"v":3.35},{"p":12,"s":"a","z":2.89,"v":3.46},{"p":12,"s":"a","z":3.22,"v":3.43},{"p":12,"s":"a","z":3.55,"v":3.44},{"p":12,"s":"a","z":3.88,"v":3.35},{"p":12,"s":"a","z":4.21,"v":3.26},{"p":12,"s":"a","z":4.65,"v":3.17},{"p":12,"s":"a","z":5.09,"v":3.07},{"p":12,"s":"a","z":5.64,"v":2.89},{"p":12,"s":"a","z":6.18,"v":2.61},{"p":12,"s":"a","z":6.8,"v":2.25},
      {"p":12,"s":"b","z":0.09,"v":0.94},{"p":12,"s":"b","z":0.22,"v":1.31},{"p":12,"s":"b","z":0.37,"v":1.22},{"p":12,"s":"b","z":0.48,"v":1.73},{"p":12,"s":"b","z":0.66,"v":1.78},{"p":12,"s":"b","z":0.81,"v":1.64},{"p":12,"s":"b","z":0.92,"v":1.87},{"p":12,"s":"b","z":1.1,"v":1.78},{"p":12,"s":"b","z":1.25,"v":1.96},{"p":12,"s":"b","z":1.47,"v":2.43},{"p":12,"s":"b","z":1.62,"v":2.24},{"p":12,"s":"b","z":1.75,"v":2.1},{"p":12,"s":"b","z":1.91,"v":2.19},{"p":12,"s":"b","z":2.13,"v":2.52},{"p":12,"s":"b","z":2.35,"v":2.8},{"p":12,"s":"b","z":2.68,"v":2.98},{"p":12,"s":"b","z":2.96,"v":3.17},{"p":12,"s":"b","z":3.22,"v":2.89},{"p":12,"s":"b","z":3.55,"v":2.8},{"p":12,"s":"b","z":3.88,"v":2.66},{"p":12,"s":"b","z":4.32,"v":2.7},{"p":12,"s":"b","z":4.65,"v":2.66},{"p":12,"s":"b","z":4.98,"v":2.8},{"p":12,"s":"b","z":5.42,"v":2.56},{"p":12,"s":"b","z":5.96,"v":2.43},{"p":12,"s":"b","z":6.8,"v":2.02},
      {"p":12,"s":"c","z":0.37,"v":0},{"p":12,"s":"c","z":0.53,"v":1.04},{"p":12,"s":"c","z":0.66,"v":0.57},{"p":12,"s":"c","z":0.75,"v":1.69},{"p":12,"s":"c","z":0.92,"v":1.41},{"p":12,"s":"c","z":1.1,"v":1.69},{"p":12,"s":"c","z":1.18,"v":0.94},{"p":12,"s":"c","z":1.36,"v":1.5},{"p":12,"s":"c","z":1.54,"v":1.31},{"p":12,"s":"c","z":1.69,"v":1.59},{"p":12,"s":"c","z":1.8,"v":1.22},{"p":12,"s":"c","z":1.91,"v":1.73},{"p":12,"s":"c","z":2.02,"v":1.04},{"p":12,"s":"c","z":2.19,"v":1.78},{"p":12,"s":"c","z":2.35,"v":2.43},{"p":12,"s":"c","z":2.5,"v":2.8},{"p":12,"s":"c","z":2.79,"v":2.89},{"p":12,"s":"c","z":3.11,"v":2.94},{"p":12,"s":"c","z":3.33,"v":2.8},{"p":12,"s":"c","z":3.66,"v":2.7},{"p":12,"s":"c","z":3.99,"v":2.61},{"p":12,"s":"c","z":4.43,"v":2.66},{"p":12,"s":"c","z":4.98,"v":2.75},{"p":12,"s":"c","z":5.42,"v":2.52},{"p":12,"s":"c","z":5.96,"v":2.29},{"p":12,"s":"c","z":6.8,"v":1.97},
      {"p":12,"m":0.48,"n":1},{"p":12,"m":0.7,"n":1},{"p":12,"m":0.88,"n":1},{"p":12,"m":1.75,"n":1},{"p":12,"m":4.36,"n":1},{"p":12,"m":5.75,"n":1},

      {"p":13,"s":"a","z":0.15,"v":0},{"p":13,"s":"a","z":0.26,"v":1.04},{"p":13,"s":"a","z":0.37,"v":1.31},{"p":13,"s":"a","z":0.53,"v":1.27},{"p":13,"s":"a","z":0.7,"v":1.78},{"p":13,"s":"a","z":0.88,"v":2.24},{"p":13,"s":"a","z":1.03,"v":2.8},{"p":13,"s":"a","z":1.18,"v":2.98},{"p":13,"s":"a","z":1.36,"v":2.89},{"p":13,"s":"a","z":1.54,"v":3.17},{"p":13,"s":"a","z":1.75,"v":3.07},{"p":13,"s":"a","z":1.97,"v":3.17},{"p":13,"s":"a","z":2.24,"v":3.35},{"p":13,"s":"a","z":2.5,"v":3.44},{"p":13,"s":"a","z":2.72,"v":3.58},{"p":13,"s":"a","z":2.94,"v":3.63},{"p":13,"s":"a","z":3.11,"v":3.54},{"p":13,"s":"a","z":3.33,"v":3.44},{"p":13,"s":"a","z":3.66,"v":3.31},{"p":13,"s":"a","z":4.1,"v":3.17},{"p":13,"s":"a","z":4.65,"v":3.03},{"p":13,"s":"a","z":5.09,"v":2.89},{"p":13,"s":"a","z":5.53,"v":2.75},{"p":13,"s":"a","z":6.07,"v":2.47},{"p":13,"s":"a","z":6.51,"v":2.24},{"p":13,"s":"a","z":6.8,"v":2.18},
      {"p":13,"s":"b","z":0.09,"v":1.31},{"p":13,"s":"b","z":0.22,"v":1.59},{"p":13,"s":"b","z":0.37,"v":1.69},{"p":13,"s":"b","z":0.53,"v":1.78},{"p":13,"s":"b","z":0.7,"v":1.87},{"p":13,"s":"b","z":0.88,"v":1.92},{"p":13,"s":"b","z":1.03,"v":1.83},{"p":13,"s":"b","z":1.25,"v":2.0},{"p":13,"s":"b","z":1.47,"v":2.1},{"p":13,"s":"b","z":1.62,"v":2.15},{"p":13,"s":"b","z":1.8,"v":2.06},{"p":13,"s":"b","z":1.97,"v":2.19},{"p":13,"s":"b","z":2.13,"v":2.56},{"p":13,"s":"b","z":2.28,"v":2.94},{"p":13,"s":"b","z":2.5,"v":2.8},{"p":13,"s":"b","z":2.72,"v":2.89},{"p":13,"s":"b","z":2.94,"v":2.7},{"p":13,"s":"b","z":3.11,"v":2.43},{"p":13,"s":"b","z":3.33,"v":2.15},{"p":13,"s":"b","z":3.66,"v":1.78},{"p":13,"s":"b","z":3.99,"v":1.31},{"p":13,"s":"b","z":4.43,"v":1.04},{"p":13,"s":"b","z":4.87,"v":0.81},{"p":13,"s":"b","z":5.31,"v":0.62},{"p":13,"s":"b","z":5.53,"v":0},
      {"p":13,"s":"c","z":0.48,"v":0},{"p":13,"s":"c","z":0.59,"v":1.13},{"p":13,"s":"c","z":0.7,"v":1.41},{"p":13,"s":"c","z":0.81,"v":0.94},{"p":13,"s":"c","z":0.96,"v":1.5},{"p":13,"s":"c","z":1.14,"v":1.31},{"p":13,"s":"c","z":1.25,"v":1.59},{"p":13,"s":"c","z":1.4,"v":1.13},{"p":13,"s":"c","z":1.58,"v":1.41},{"p":13,"s":"c","z":1.73,"v":1.87},{"p":13,"s":"c","z":1.84,"v":2.24},{"p":13,"s":"c","z":2.02,"v":2.43},{"p":13,"s":"c","z":2.19,"v":2.8},{"p":13,"s":"c","z":2.35,"v":2.91},{"p":13,"s":"c","z":2.57,"v":2.7},{"p":13,"s":"c","z":2.89,"v":2.43},{"p":13,"s":"c","z":3.22,"v":2.15},{"p":13,"s":"c","z":3.55,"v":1.87},{"p":13,"s":"c","z":3.88,"v":1.31},{"p":13,"s":"c","z":4.21,"v":1.08},{"p":13,"s":"c","z":4.65,"v":0.85},{"p":13,"s":"c","z":5.09,"v":0.67},{"p":13,"s":"c","z":5.48,"v":0},
      {"p":13,"m":0.88,"n":1},{"p":13,"m":3.16,"n":1},

      {"p":14,"s":"a","z":0.48,"v":0},{"p":14,"s":"a","z":0.59,"v":1.22},{"p":14,"s":"a","z":0.75,"v":1.96},{"p":14,"s":"a","z":0.88,"v":2.43},{"p":14,"s":"a","z":1.03,"v":2.61},{"p":14,"s":"a","z":1.18,"v":2.7},{"p":14,"s":"a","z":1.36,"v":2.8},{"p":14,"s":"a","z":1.62,"v":2.66},{"p":14,"s":"a","z":1.8,"v":2.7},{"p":14,"s":"a","z":2.13,"v":2.98},{"p":14,"s":"a","z":2.46,"v":3.07},{"p":14,"s":"a","z":2.72,"v":3.17},{"p":14,"s":"a","z":2.94,"v":3.09},{"p":14,"s":"a","z":3.22,"v":3.21},{"p":14,"s":"a","z":3.55,"v":3.26},{"p":14,"s":"a","z":3.88,"v":3.24},{"p":14,"s":"a","z":4.21,"v":3.21},{"p":14,"s":"a","z":4.65,"v":3.17},{"p":14,"s":"a","z":5.09,"v":3.03},{"p":14,"s":"a","z":5.64,"v":2.84},{"p":14,"s":"a","z":6.18,"v":2.66},{"p":14,"s":"a","z":6.8,"v":2.55},
      {"p":14,"s":"b","z":0.09,"v":1.13},{"p":14,"s":"b","z":0.22,"v":1.31},{"p":14,"s":"b","z":0.37,"v":1.13},{"p":14,"s":"b","z":0.53,"v":1.31},{"p":14,"s":"b","z":0.66,"v":1.31},{"p":14,"s":"b","z":0.81,"v":2.06},{"p":14,"s":"b","z":0.96,"v":2.24},{"p":14,"s":"b","z":1.1,"v":2.7},{"p":14,"s":"b","z":1.25,"v":2.52},{"p":14,"s":"b","z":1.4,"v":2.89},{"p":14,"s":"b","z":1.58,"v":2.52},{"p":14,"s":"b","z":1.75,"v":2.33},{"p":14,"s":"b","z":1.91,"v":2.43},{"p":14,"s":"b","z":2.08,"v":2.61},{"p":14,"s":"b","z":2.24,"v":2.33},{"p":14,"s":"b","z":2.46,"v":1.96},{"p":14,"s":"b","z":2.68,"v":1.78},{"p":14,"s":"b","z":2.94,"v":1.5},{"p":14,"s":"b","z":3.22,"v":1.31},{"p":14,"s":"b","z":3.44,"v":1.04},{"p":14,"s":"b","z":3.73,"v":1.36},{"p":14,"s":"b","z":3.99,"v":2.61},{"p":14,"s":"b","z":4.32,"v":2.66},{"p":14,"s":"b","z":4.65,"v":2.75},{"p":14,"s":"b","z":4.87,"v":2.61},{"p":14,"s":"b","z":5.2,"v":2.52},{"p":14,"s":"b","z":5.64,"v":2.33},{"p":14,"s":"b","z":6.07,"v":2.29},{"p":14,"s":"b","z":6.8,"v":2.29},
      {"p":14,"s":"c","z":0.59,"v":0},{"p":14,"s":"c","z":0.75,"v":1.13},{"p":14,"s":"c","z":0.88,"v":1.5},{"p":14,"s":"c","z":1.03,"v":2.43},{"p":14,"s":"c","z":1.18,"v":2.06},{"p":14,"s":"c","z":1.32,"v":2.7},{"p":14,"s":"c","z":1.47,"v":2.24},{"p":14,"s":"c","z":1.62,"v":2.47},{"p":14,"s":"c","z":1.75,"v":1.87},{"p":14,"s":"c","z":1.91,"v":1.92},{"p":14,"s":"c","z":2.06,"v":1.59},{"p":14,"s":"c","z":2.24,"v":1.59},{"p":14,"s":"c","z":2.41,"v":1.64},{"p":14,"s":"c","z":2.57,"v":1.41},{"p":14,"s":"c","z":2.79,"v":1.22},{"p":14,"s":"c","z":3.0,"v":0.76},{"p":14,"s":"c","z":3.22,"v":0.94},{"p":14,"s":"c","z":3.44,"v":0.76},{"p":14,"s":"c","z":3.66,"v":1.13},{"p":14,"s":"c","z":3.99,"v":2.61},{"p":14,"s":"c","z":4.32,"v":2.66},{"p":14,"s":"c","z":4.65,"v":2.75},{"p":14,"s":"c","z":4.87,"v":2.61},{"p":14,"s":"c","z":5.2,"v":2.52},{"p":14,"s":"c","z":5.64,"v":2.24},{"p":14,"s":"c","z":6.07,"v":2.2},{"p":14,"s":"c","z":6.8,"v":2.24},
      {"p":14,"m":1.1,"n":2},{"p":14,"m":1.3,"n":1},{"p":14,"m":1.5,"n":1},{"p":14,"m":1.7,"n":1},{"p":14,"m":2.35,"n":3},{"p":14,"m":4.5,"n":1},{"p":14,"m":5.04,"n":2},

      {"p":15,"s":"a","z":0.31,"v":0},{"p":15,"s":"a","z":0.37,"v":1.31},{"p":15,"s":"a","z":0.48,"v":1.78},{"p":15,"s":"a","z":0.59,"v":1.59},{"p":15,"s":"a","z":0.7,"v":2.1},{"p":15,"s":"a","z":0.92,"v":2.15},{"p":15,"s":"a","z":1.03,"v":2.38},{"p":15,"s":"a","z":1.18,"v":2.43},{"p":15,"s":"a","z":1.36,"v":2.61},{"p":15,"s":"a","z":1.58,"v":2.7},{"p":15,"s":"a","z":1.8,"v":2.89},{"p":15,"s":"a","z":2.02,"v":3.03},{"p":15,"s":"a","z":2.28,"v":3.26},{"p":15,"s":"a","z":2.46,"v":3.31},{"p":15,"s":"a","z":2.68,"v":3.35},{"p":15,"s":"a","z":2.85,"v":3.17},{"p":15,"s":"a","z":3.11,"v":3.26},{"p":15,"s":"a","z":3.44,"v":3.26},{"p":15,"s":"a","z":3.77,"v":3.31},{"p":15,"s":"a","z":3.99,"v":3.37},{"p":15,"s":"a","z":4.32,"v":3.31},{"p":15,"s":"a","z":4.65,"v":3.24},{"p":15,"s":"a","z":5.09,"v":3.17},{"p":15,"s":"a","z":5.53,"v":2.98},{"p":15,"s":"a","z":5.96,"v":2.8},{"p":15,"s":"a","z":6.4,"v":2.61},{"p":15,"s":"a","z":6.8,"v":2.35},
      {"p":15,"s":"b","z":0.09,"v":1.04},{"p":15,"s":"b","z":0.22,"v":1.41},{"p":15,"s":"b","z":0.37,"v":1.69},{"p":15,"s":"b","z":0.53,"v":1.87},{"p":15,"s":"b","z":0.7,"v":1.96},{"p":15,"s":"b","z":0.92,"v":1.87},{"p":15,"s":"b","z":1.1,"v":1.83},{"p":15,"s":"b","z":1.25,"v":1.31},{"p":15,"s":"b","z":1.4,"v":1.78},{"p":15,"s":"b","z":1.58,"v":1.69},{"p":15,"s":"b","z":1.8,"v":1.87},{"p":15,"s":"b","z":2.02,"v":2.0},{"p":15,"s":"b","z":2.19,"v":1.83},{"p":15,"s":"b","z":2.35,"v":1.04},{"p":15,"s":"b","z":2.57,"v":0.94},{"p":15,"s":"b","z":2.79,"v":1.13},{"p":15,"s":"b","z":3.0,"v":1.27},{"p":15,"s":"b","z":3.22,"v":1.5},{"p":15,"s":"b","z":3.44,"v":1.59},{"p":15,"s":"b","z":3.6,"v":1.41},{"p":15,"s":"b","z":3.88,"v":2.98},{"p":15,"s":"b","z":4.43,"v":2.94},{"p":15,"s":"b","z":5.09,"v":2.91},{"p":15,"s":"b","z":5.53,"v":2.89},{"p":15,"s":"b","z":5.96,"v":2.61},{"p":15,"s":"b","z":6.29,"v":2.47},{"p":15,"s":"b","z":6.8,"v":2.3},
      {"p":15,"s":"c","z":0.48,"v":0},{"p":15,"s":"c","z":0.59,"v":1.22},{"p":15,"s":"c","z":0.7,"v":1.87},{"p":15,"s":"c","z":0.81,"v":1.04},{"p":15,"s":"c","z":0.92,"v":1.69},{"p":15,"s":"c","z":1.03,"v":2.38},{"p":15,"s":"c","z":1.14,"v":1.31},{"p":15,"s":"c","z":1.32,"v":0},{"p":15,"s":"c","z":1.47,"v":1.69},{"p":15,"s":"c","z":1.62,"v":1.5},{"p":15,"s":"c","z":1.8,"v":1.87},{"p":15,"s":"c","z":2.02,"v":2.0},{"p":15,"s":"c","z":2.19,"v":1.78},{"p":15,"s":"c","z":2.46,"v":1.31},{"p":15,"s":"c","z":2.68,"v":0.94},{"p":15,"s":"c","z":2.89,"v":0.81},{"p":15,"s":"c","z":3.11,"v":0.94},{"p":15,"s":"c","z":3.33,"v":1.22},{"p":15,"s":"c","z":3.6,"v":1.41},{"p":15,"s":"c","z":3.88,"v":2.98},{"p":15,"s":"c","z":4.43,"v":2.96},{"p":15,"s":"c","z":5.09,"v":2.94},{"p":15,"s":"c","z":5.53,"v":2.89},{"p":15,"s":"c","z":5.96,"v":2.56},{"p":15,"s":"c","z":6.29,"v":2.43},{"p":15,"s":"c","z":6.8,"v":2.26},
      {"p":15,"m":1.25,"n":1},{"p":15,"m":2.57,"n":1},{"p":15,"m":3.99,"n":2},{"p":15,"m":4.54,"n":2},{"p":15,"m":5.04,"n":1},

      {"p":16,"s":"a","z":0.22,"v":0},{"p":16,"s":"a","z":0.31,"v":0.94},{"p":16,"s":"a","z":0.44,"v":1.31},{"p":16,"s":"a","z":0.59,"v":1.59},{"p":16,"s":"a","z":0.75,"v":1.87},{"p":16,"s":"a","z":0.92,"v":2.15},{"p":16,"s":"a","z":1.1,"v":2.33},{"p":16,"s":"a","z":1.18,"v":2.61},{"p":16,"s":"a","z":1.32,"v":2.8},{"p":16,"s":"a","z":1.54,"v":2.89},{"p":16,"s":"a","z":1.75,"v":2.98},{"p":16,"s":"a","z":2.02,"v":3.03},{"p":16,"s":"a","z":2.24,"v":3.0},{"p":16,"s":"a","z":2.46,"v":3.06},{"p":16,"s":"a","z":2.68,"v":3.0},{"p":16,"s":"a","z":2.89,"v":3.12},{"p":16,"s":"a","z":3.22,"v":3.03},{"p":16,"s":"a","z":3.66,"v":2.98},{"p":16,"s":"a","z":4.1,"v":2.96},{"p":16,"s":"a","z":4.54,"v":2.94},{"p":16,"s":"a","z":4.98,"v":2.75},{"p":16,"s":"a","z":5.42,"v":2.56},{"p":16,"s":"a","z":5.96,"v":2.38},{"p":16,"s":"a","z":6.51,"v":2.19},{"p":16,"s":"a","z":6.8,"v":2.17},
      {"p":16,"s":"b","z":0,"v":1.04},{"p":16,"s":"b","z":0.09,"v":1.31},{"p":16,"s":"b","z":0.22,"v":1.13},{"p":16,"s":"b","z":0.37,"v":1.59},{"p":16,"s":"b","z":0.53,"v":1.87},{"p":16,"s":"b","z":0.66,"v":2.15},{"p":16,"s":"b","z":0.81,"v":1.96},{"p":16,"s":"b","z":0.96,"v":1.78},{"p":16,"s":"b","z":1.1,"v":1.96},{"p":16,"s":"b","z":1.25,"v":1.69},{"p":16,"s":"b","z":1.4,"v":2.06},{"p":16,"s":"b","z":1.58,"v":1.87},{"p":16,"s":"b","z":1.75,"v":1.45},{"p":16,"s":"b","z":1.97,"v":1.45},{"p":16,"s":"b","z":2.13,"v":1.31},{"p":16,"s":"b","z":2.35,"v":1.73},{"p":16,"s":"b","z":2.5,"v":1.5},{"p":16,"s":"b","z":2.72,"v":1.31},{"p":16,"s":"b","z":3.0,"v":1.04},{"p":16,"s":"b","z":3.33,"v":0.85},{"p":16,"s":"b","z":3.6,"v":0.71},{"p":16,"s":"b","z":3.82,"v":0.57},{"p":16,"s":"b","z":3.99,"v":0},
      {"p":16,"s":"c","z":0.15,"v":0},{"p":16,"s":"c","z":0.26,"v":0.94},{"p":16,"s":"c","z":0.37,"v":0},{"p":16,"s":"c","z":0.48,"v":1.78},{"p":16,"s":"c","z":0.59,"v":0},{"p":16,"s":"c","z":0.75,"v":2.06},{"p":16,"s":"c","z":0.88,"v":0},{"p":16,"s":"c","z":1.03,"v":1.92},{"p":16,"s":"c","z":1.14,"v":0},{"p":16,"s":"c","z":1.32,"v":2.06},{"p":16,"s":"c","z":1.47,"v":1.96},{"p":16,"s":"c","z":1.62,"v":1.59},{"p":16,"s":"c","z":1.8,"v":1.22},{"p":16,"s":"c","z":2.02,"v":1.13},{"p":16,"s":"c","z":2.24,"v":1.41},{"p":16,"s":"c","z":2.41,"v":2.15},{"p":16,"s":"c","z":2.57,"v":1.59},{"p":16,"s":"c","z":2.79,"v":1.41},{"p":16,"s":"c","z":3.07,"v":1.04},{"p":16,"s":"c","z":3.33,"v":0.81},{"p":16,"s":"c","z":3.66,"v":0.67},{"p":16,"s":"c","z":4.1,"v":0},
      {"p":16,"m":1.58,"n":1},{"p":16,"m":1.75,"n":1},{"p":16,"m":2.79,"n":2},{"p":16,"m":4.87,"n":1},

      {"p":17,"s":"a","z":0.26,"v":0},{"p":17,"s":"a","z":0.37,"v":1.31},{"p":17,"s":"a","z":0.53,"v":1.5},{"p":17,"s":"a","z":0.66,"v":1.78},{"p":17,"s":"a","z":0.81,"v":2.06},{"p":17,"s":"a","z":0.96,"v":2.29},{"p":17,"s":"a","z":1.14,"v":2.52},{"p":17,"s":"a","z":1.32,"v":2.47},{"p":17,"s":"a","z":1.47,"v":2.7},{"p":17,"s":"a","z":1.69,"v":2.8},{"p":17,"s":"a","z":1.91,"v":2.91},{"p":17,"s":"a","z":2.13,"v":3.03},{"p":17,"s":"a","z":2.35,"v":3.12},{"p":17,"s":"a","z":2.68,"v":3.17},{"p":17,"s":"a","z":3.0,"v":3.12},{"p":17,"s":"a","z":3.33,"v":3.19},{"p":17,"s":"a","z":3.66,"v":3.21},{"p":17,"s":"a","z":3.92,"v":3.24},{"p":17,"s":"a","z":4.21,"v":3.09},{"p":17,"s":"a","z":4.6,"v":3.19},{"p":17,"s":"a","z":4.98,"v":2.94},{"p":17,"s":"a","z":5.42,"v":2.8},{"p":17,"s":"a","z":5.96,"v":2.61},{"p":17,"s":"a","z":6.8,"v":2.3},
      {"p":17,"s":"b","z":0.04,"v":1.41},{"p":17,"s":"b","z":0.22,"v":1.69},{"p":17,"s":"b","z":0.37,"v":1.5},{"p":17,"s":"b","z":0.53,"v":1.31},{"p":17,"s":"b","z":0.7,"v":0.94},{"p":17,"s":"b","z":0.88,"v":1.13},{"p":17,"s":"b","z":1.03,"v":1.31},{"p":17,"s":"b","z":1.18,"v":1.41},{"p":17,"s":"b","z":1.36,"v":1.22},{"p":17,"s":"b","z":1.54,"v":1.13},{"p":17,"s":"b","z":1.69,"v":0.9},{"p":17,"s":"b","z":1.84,"v":1.04},{"p":17,"s":"b","z":2.02,"v":1.41},{"p":17,"s":"b","z":2.19,"v":1.59},{"p":17,"s":"b","z":2.35,"v":1.78},{"p":17,"s":"b","z":2.5,"v":2.61},{"p":17,"s":"b","z":2.68,"v":2.66},{"p":17,"s":"b","z":3.0,"v":2.61},{"p":17,"s":"b","z":3.33,"v":2.52},{"p":17,"s":"b","z":3.66,"v":2.43},{"p":17,"s":"b","z":3.99,"v":2.52},{"p":17,"s":"b","z":4.32,"v":2.61},{"p":17,"s":"b","z":4.65,"v":2.33},{"p":17,"s":"b","z":5.04,"v":2.15},{"p":17,"s":"b","z":5.42,"v":2.1},{"p":17,"s":"b","z":5.75,"v":1.87},{"p":17,"s":"b","z":6.18,"v":1.5},{"p":17,"s":"b","z":6.8,"v":1.35},
      {"p":17,"s":"c","z":0.59,"v":0},{"p":17,"s":"c","z":0.75,"v":0.76},{"p":17,"s":"c","z":0.88,"v":0},{"p":17,"s":"c","z":1.36,"v":0},{"p":17,"s":"c","z":1.58,"v":1.04},{"p":17,"s":"c","z":1.75,"v":0.76},{"p":17,"s":"c","z":1.91,"v":1.31},{"p":17,"s":"c","z":2.13,"v":1.69},{"p":17,"s":"c","z":2.35,"v":2.06},{"p":17,"s":"c","z":2.57,"v":2.56},{"p":17,"s":"c","z":2.85,"v":2.61},{"p":17,"s":"c","z":3.11,"v":2.56},{"p":17,"s":"c","z":3.44,"v":2.47},{"p":17,"s":"c","z":3.88,"v":2.38},{"p":17,"s":"c","z":4.21,"v":2.56},{"p":17,"s":"c","z":4.54,"v":2.75},{"p":17,"s":"c","z":4.76,"v":2.43},{"p":17,"s":"c","z":5.09,"v":1.92},{"p":17,"s":"c","z":5.53,"v":1.87},{"p":17,"s":"c","z":5.86,"v":1.59},{"p":17,"s":"c","z":6.29,"v":1.31},{"p":17,"s":"c","z":6.8,"v":1.26},
      {"p":17,"m":0.8,"n":1},

      {"p":18,"s":"a","z":0.26,"v":0},{"p":18,"s":"a","z":0.37,"v":1.13},{"p":18,"s":"a","z":0.48,"v":1.59},{"p":18,"s":"a","z":0.59,"v":1.69},{"p":18,"s":"a","z":0.7,"v":1.87},{"p":18,"s":"a","z":0.88,"v":2.15},{"p":18,"s":"a","z":1.03,"v":2.29},{"p":18,"s":"a","z":1.25,"v":2.47},{"p":18,"s":"a","z":1.47,"v":2.7},{"p":18,"s":"a","z":1.69,"v":2.84},{"p":18,"s":"a","z":2.02,"v":2.94},{"p":18,"s":"a","z":2.35,"v":3.07},{"p":18,"s":"a","z":2.63,"v":3.17},{"p":18,"s":"a","z":2.94,"v":3.21},{"p":18,"s":"a","z":3.29,"v":3.31},{"p":18,"s":"a","z":3.66,"v":3.46},{"p":18,"s":"a","z":3.99,"v":3.35},{"p":18,"s":"a","z":4.32,"v":3.21},{"p":18,"s":"a","z":4.76,"v":3.17},{"p":18,"s":"a","z":5.2,"v":3.03},{"p":18,"s":"a","z":5.64,"v":2.89},{"p":18,"s":"a","z":6.07,"v":2.7},{"p":18,"s":"a","z":6.8,"v":2.3},
      {"p":18,"s":"b","z":0.09,"v":1.41},{"p":18,"s":"b","z":0.26,"v":1.59},{"p":18,"s":"b","z":0.44,"v":1.78},{"p":18,"s":"b","z":0.59,"v":1.83},{"p":18,"s":"b","z":0.75,"v":1.64},{"p":18,"s":"b","z":0.92,"v":1.96},{"p":18,"s":"b","z":1.1,"v":1.78},{"p":18,"s":"b","z":1.25,"v":1.96},{"p":18,"s":"b","z":1.47,"v":2.15},{"p":18,"s":"b","z":1.69,"v":2.33},{"p":18,"s":"b","z":1.84,"v":2.38},{"p":18,"s":"b","z":2.02,"v":2.24},{"p":18,"s":"b","z":2.24,"v":2.1},{"p":18,"s":"b","z":2.46,"v":2.19},{"p":18,"s":"b","z":2.72,"v":2.29},{"p":18,"s":"b","z":3.0,"v":2.33},{"p":18,"s":"b","z":3.16,"v":2.24},{"p":18,"s":"b","z":3.55,"v":2.7},{"p":18,"s":"b","z":3.77,"v":2.66},{"p":18,"s":"b","z":4.03,"v":2.61},{"p":18,"s":"b","z":4.25,"v":2.47},{"p":18,"s":"b","z":4.65,"v":2.33},{"p":18,"s":"b","z":5.09,"v":2.29},{"p":18,"s":"b","z":5.53,"v":2.29},{"p":18,"s":"b","z":5.96,"v":2.19},{"p":18,"s":"b","z":6.4,"v":1.87},{"p":18,"s":"b","z":6.8,"v":1.62},
      {"p":18,"s":"c","z":0.44,"v":0},{"p":18,"s":"c","z":0.59,"v":1.31},{"p":18,"s":"c","z":0.7,"v":1.04},{"p":18,"s":"c","z":0.88,"v":1.5},{"p":18,"s":"c","z":1.03,"v":1.13},{"p":18,"s":"c","z":1.18,"v":1.59},{"p":18,"s":"c","z":1.36,"v":1.5},{"p":18,"s":"c","z":1.54,"v":1.78},{"p":18,"s":"c","z":1.69,"v":1.87},{"p":18,"s":"c","z":1.84,"v":2.06},{"p":18,"s":"c","z":2.06,"v":1.96},{"p":18,"s":"c","z":2.28,"v":2.06},{"p":18,"s":"c","z":2.5,"v":1.92},{"p":18,"s":"c","z":2.72,"v":1.83},{"p":18,"s":"c","z":2.94,"v":1.69},{"p":18,"s":"c","z":3.07,"v":0.57},{"p":18,"s":"c","z":3.33,"v":0.48},{"p":18,"s":"c","z":3.5,"v":0.4},{"p":18,"s":"c","z":3.55,"v":2.89},{"p":18,"s":"c","z":3.77,"v":2.84},{"p":18,"s":"c","z":4.03,"v":2.29},{"p":18,"s":"c","z":4.25,"v":2.38},{"p":18,"s":"c","z":4.65,"v":2.29},{"p":18,"s":"c","z":5.09,"v":2.24},{"p":18,"s":"c","z":5.42,"v":2.29},{"p":18,"s":"c","z":5.75,"v":2.2},{"p":18,"s":"c","z":6.18,"v":1.87},{"p":18,"s":"c","z":6.8,"v":1.52},
      {"p":18,"m":0.48,"n":1},{"p":18,"m":3.77,"n":1},

      {"p":19,"s":"a","z":0.59,"v":0},{"p":19,"s":"a","z":0.66,"v":1.13},{"p":19,"s":"a","z":0.81,"v":1.5},{"p":19,"s":"a","z":1.03,"v":1.87},{"p":19,"s":"a","z":1.25,"v":2.1},{"p":19,"s":"a","z":1.47,"v":2.24},{"p":19,"s":"a","z":1.69,"v":2.52},{"p":19,"s":"a","z":1.91,"v":2.66},{"p":19,"s":"a","z":2.13,"v":2.7},{"p":19,"s":"a","z":2.35,"v":2.89},{"p":19,"s":"a","z":2.5,"v":2.7},{"p":19,"s":"a","z":2.68,"v":2.8},{"p":19,"s":"a","z":3.0,"v":2.94},{"p":19,"s":"a","z":3.33,"v":2.98},{"p":19,"s":"a","z":3.66,"v":3.07},{"p":19,"s":"a","z":4.1,"v":3.28},{"p":19,"s":"a","z":4.54,"v":3.17},{"p":19,"s":"a","z":4.98,"v":3.07},{"p":19,"s":"a","z":5.42,"v":2.84},{"p":19,"s":"a","z":5.86,"v":2.7},{"p":19,"s":"a","z":6.29,"v":2.56},{"p":19,"s":"a","z":6.8,"v":2.35},
      {"p":19,"s":"b","z":0.04,"v":1.31},{"p":19,"s":"b","z":0.22,"v":1.41},{"p":19,"s":"b","z":0.37,"v":1.22},{"p":19,"s":"b","z":0.53,"v":1.41},{"p":19,"s":"b","z":0.7,"v":1.13},{"p":19,"s":"b","z":0.88,"v":1.59},{"p":19,"s":"b","z":1.03,"v":1.78},{"p":19,"s":"b","z":1.25,"v":1.87},{"p":19,"s":"b","z":1.47,"v":2.0},{"p":19,"s":"b","z":1.69,"v":2.24},{"p":19,"s":"b","z":1.91,"v":2.33},{"p":19,"s":"b","z":2.13,"v":2.47},{"p":19,"s":"b","z":2.35,"v":2.43},{"p":19,"s":"b","z":2.63,"v":2.33},{"p":19,"s":"b","z":2.85,"v":2.38},{"p":19,"s":"b","z":3.11,"v":2.19},{"p":19,"s":"b","z":3.44,"v":2.19},{"p":19,"s":"b","z":3.66,"v":2.33},{"p":19,"s":"b","z":3.99,"v":2.91},{"p":19,"s":"b","z":4.32,"v":2.89},{"p":19,"s":"b","z":4.65,"v":2.84},{"p":19,"s":"b","z":4.98,"v":2.7},{"p":19,"s":"b","z":5.42,"v":2.43},{"p":19,"s":"b","z":5.86,"v":2.33},{"p":19,"s":"b","z":6.29,"v":2.24},{"p":19,"s":"b","z":6.8,"v":2.08},
      {"p":19,"s":"c","z":0.59,"v":0},{"p":19,"s":"c","z":0.75,"v":1.04},{"p":19,"s":"c","z":0.92,"v":1.69},{"p":19,"s":"c","z":1.1,"v":1.13},{"p":19,"s":"c","z":1.25,"v":1.31},{"p":19,"s":"c","z":1.4,"v":1.78},{"p":19,"s":"c","z":1.58,"v":1.87},{"p":19,"s":"c","z":1.8,"v":1.96},{"p":19,"s":"c","z":2.02,"v":2.1},{"p":19,"s":"c","z":2.24,"v":2.15},{"p":19,"s":"c","z":2.46,"v":2.0},{"p":19,"s":"c","z":2.68,"v":2.06},{"p":19,"s":"c","z":3.0,"v":1.78},{"p":19,"s":"c","z":3.22,"v":1.87},{"p":19,"s":"c","z":3.49,"v":1.31},{"p":19,"s":"c","z":3.73,"v":2.06},{"p":19,"s":"c","z":3.99,"v":2.94},{"p":19,"s":"c","z":4.32,"v":2.84},{"p":19,"s":"c","z":4.65,"v":2.8},{"p":19,"s":"c","z":4.98,"v":2.66},{"p":19,"s":"c","z":5.42,"v":2.38},{"p":19,"s":"c","z":5.86,"v":2.33},{"p":19,"s":"c","z":6.29,"v":2.19},{"p":19,"s":"c","z":6.8,"v":2.04},
      {"p":19,"m":1.58,"n":1},{"p":19,"m":2.13,"n":1},{"p":19,"m":2.28,"n":1},{"p":19,"m":2.41,"n":1},{"p":19,"m":2.79,"n":1},{"p":19,"m":3.29,"n":1},

      {"p":20,"s":"a","z":0.48,"v":0},{"p":20,"s":"a","z":0.59,"v":1.13},{"p":20,"s":"a","z":0.75,"v":1.59},{"p":20,"s":"a","z":0.88,"v":1.87},{"p":20,"s":"a","z":1.03,"v":2.24},{"p":20,"s":"a","z":1.14,"v":2.19},{"p":20,"s":"a","z":1.32,"v":2.43},{"p":20,"s":"a","z":1.47,"v":2.61},{"p":20,"s":"a","z":1.69,"v":2.8},{"p":20,"s":"a","z":1.91,"v":2.98},{"p":20,"s":"a","z":2.13,"v":3.07},{"p":20,"s":"a","z":2.28,"v":3.19},{"p":20,"s":"a","z":2.57,"v":3.07},{"p":20,"s":"a","z":2.89,"v":3.21},{"p":20,"s":"a","z":3.22,"v":3.24},{"p":20,"s":"a","z":3.55,"v":3.21},{"p":20,"s":"a","z":3.88,"v":3.24},{"p":20,"s":"a","z":4.21,"v":3.17},{"p":20,"s":"a","z":4.65,"v":3.03},{"p":20,"s":"a","z":5.09,"v":2.84},{"p":20,"s":"a","z":5.53,"v":2.66},{"p":20,"s":"a","z":5.96,"v":2.52},{"p":20,"s":"a","z":6.4,"v":2.33},{"p":20,"s":"a","z":6.8,"v":2.07},
      {"p":20,"s":"b","z":0.09,"v":1.59},{"p":20,"s":"b","z":0.22,"v":1.69},{"p":20,"s":"b","z":0.37,"v":1.5},{"p":20,"s":"b","z":0.48,"v":1.78},{"p":20,"s":"b","z":0.66,"v":1.59},{"p":20,"s":"b","z":0.81,"v":1.69},{"p":20,"s":"b","z":0.96,"v":1.96},{"p":20,"s":"b","z":1.14,"v":2.24},{"p":20,"s":"b","z":1.36,"v":2.06},{"p":20,"s":"b","z":1.58,"v":2.24},{"p":20,"s":"b","z":1.8,"v":2.33},{"p":20,"s":"b","z":2.02,"v":2.19},{"p":20,"s":"b","z":2.24,"v":2.75},{"p":20,"s":"b","z":2.46,"v":2.15},{"p":20,"s":"b","z":2.72,"v":2.29},{"p":20,"s":"b","z":2.89,"v":2.38},{"p":20,"s":"b","z":3.11,"v":2.15},{"p":20,"s":"b","z":3.33,"v":2.0},{"p":20,"s":"b","z":3.66,"v":1.92},{"p":20,"s":"b","z":3.99,"v":1.83},{"p":20,"s":"b","z":4.32,"v":1.69},{"p":20,"s":"b","z":4.65,"v":1.55},{"p":20,"s":"b","z":5.09,"v":1.22},{"p":20,"s":"b","z":5.53,"v":1.08},{"p":20,"s":"b","z":5.96,"v":0.99},{"p":20,"s":"b","z":6.4,"v":0.81},{"p":20,"s":"b","z":6.8,"v":0.5},
      {"p":20,"s":"c","z":0.59,"v":0},{"p":20,"s":"c","z":0.75,"v":1.04},{"p":20,"s":"c","z":0.88,"v":1.31},{"p":20,"s":"c","z":1.03,"v":1.78},{"p":20,"s":"c","z":1.14,"v":1.31},{"p":20,"s":"c","z":1.32,"v":2.06},{"p":20,"s":"c","z":1.47,"v":1.78},{"p":20,"s":"c","z":1.62,"v":2.06},{"p":20,"s":"c","z":1.8,"v":2.24},{"p":20,"s":"c","z":1.97,"v":2.15},{"p":20,"s":"c","z":2.13,"v":2.24},{"p":20,"s":"c","z":2.28,"v":2.72},{"p":20,"s":"c","z":2.46,"v":1.96},{"p":20,"s":"c","z":2.72,"v":2.0},{"p":20,"s":"c","z":3.0,"v":2.0},{"p":20,"s":"c","z":3.33,"v":1.87},{"p":20,"s":"c","z":3.66,"v":1.78},{"p":20,"s":"c","z":3.99,"v":1.69},{"p":20,"s":"c","z":4.32,"v":1.55},{"p":20,"s":"c","z":4.65,"v":1.41},{"p":20,"s":"c","z":5.09,"v":1.13},{"p":20,"s":"c","z":5.31,"v":0.76},{"p":20,"s":"c","z":5.53,"v":0.94},{"p":20,"s":"c","z":5.96,"v":0.85},{"p":20,"s":"c","z":6.4,"v":0.71},{"p":20,"s":"c","z":6.8,"v":0.42},
      {"p":20,"m":0.81,"n":1},{"p":20,"m":1.1,"n":1},{"p":20,"m":1.25,"n":2},{"p":20,"m":1.36,"n":1},{"p":20,"m":2.46,"n":1},{"p":20,"m":2.63,"n":1},{"p":20,"m":3.29,"n":1},{"p":20,"m":5.42,"n":1},

      {"p":21,"s":"a","z":0.09,"v":0},{"p":21,"s":"a","z":0.15,"v":0.85},{"p":21,"s":"a","z":0.26,"v":1.22},{"p":21,"s":"a","z":0.44,"v":1.59},{"p":21,"s":"a","z":0.59,"v":1.83},{"p":21,"s":"a","z":0.7,"v":2.29},{"p":21,"s":"a","z":0.81,"v":1.96},{"p":21,"s":"a","z":0.96,"v":2.33},{"p":21,"s":"a","z":1.14,"v":2.52},{"p":21,"s":"a","z":1.32,"v":2.8},{"p":21,"s":"a","z":1.54,"v":2.98},{"p":21,"s":"a","z":1.8,"v":3.12},{"p":21,"s":"a","z":2.13,"v":3.17},{"p":21,"s":"a","z":2.46,"v":3.12},{"p":21,"s":"a","z":2.79,"v":3.17},{"p":21,"s":"a","z":3.11,"v":3.09},{"p":21,"s":"a","z":3.33,"v":3.17},{"p":21,"s":"a","z":3.66,"v":3.21},{"p":21,"s":"a","z":3.99,"v":3.17},{"p":21,"s":"a","z":4.32,"v":3.21},{"p":21,"s":"a","z":4.54,"v":3.07},{"p":21,"s":"a","z":4.76,"v":2.94},{"p":21,"s":"a","z":5.09,"v":2.89},{"p":21,"s":"a","z":5.53,"v":2.7},{"p":21,"s":"a","z":6.07,"v":2.47},{"p":21,"s":"a","z":6.8,"v":2.15},
      {"p":21,"s":"b","z":0,"v":1.04},{"p":21,"s":"b","z":0.09,"v":1.5},{"p":21,"s":"b","z":0.22,"v":1.31},{"p":21,"s":"b","z":0.37,"v":1.87},{"p":21,"s":"b","z":0.53,"v":1.69},{"p":21,"s":"b","z":0.66,"v":2.06},{"p":21,"s":"b","z":0.81,"v":1.92},{"p":21,"s":"b","z":0.96,"v":2.1},{"p":21,"s":"b","z":1.14,"v":2.19},{"p":21,"s":"b","z":1.32,"v":2.1},{"p":21,"s":"b","z":1.47,"v":2.29},{"p":21,"s":"b","z":1.62,"v":2.15},{"p":21,"s":"b","z":1.8,"v":2.29},{"p":21,"s":"b","z":1.86,"v":0.57},{"p":21,"s":"b","z":2.02,"v":0.67},{"p":21,"s":"b","z":2.19,"v":0.53},{"p":21,"s":"b","z":2.35,"v":1.13},{"p":21,"s":"b","z":2.57,"v":0.94},{"p":21,"s":"b","z":2.79,"v":1.13},{"p":21,"s":"b","z":3.11,"v":1.22},{"p":21,"s":"b","z":3.33,"v":1.27},{"p":21,"s":"b","z":3.45,"v":1.3},{"p":21,"s":"b","z":3.55,"v":2.9},{"p":21,"s":"b","z":3.66,"v":2.98},{"p":21,"s":"b","z":3.99,"v":3.12},{"p":21,"s":"b","z":4.32,"v":3.03},{"p":21,"s":"b","z":4.54,"v":2.94},{"p":21,"s":"b","z":4.82,"v":2.52},{"p":21,"s":"b","z":5.2,"v":2.43},{"p":21,"s":"b","z":5.53,"v":2.24},{"p":21,"s":"b","z":5.96,"v":2.0},{"p":21,"s":"b","z":6.4,"v":1.87},{"p":21,"s":"b","z":6.8,"v":1.56},
      {"p":21,"s":"c","z":0.15,"v":0},{"p":21,"s":"c","z":0.22,"v":1.41},{"p":21,"s":"c","z":0.31,"v":0.57},{"p":21,"s":"c","z":0.44,"v":1.22},{"p":21,"s":"c","z":0.53,"v":0},{"p":21,"s":"c","z":0.66,"v":1.59},{"p":21,"s":"c","z":0.75,"v":0},{"p":21,"s":"c","z":0.92,"v":1.87},{"p":21,"s":"c","z":1.1,"v":1.31},{"p":21,"s":"c","z":1.18,"v":1.87},{"p":21,"s":"c","z":1.32,"v":1.83},{"p":21,"s":"c","z":1.47,"v":1.31},{"p":21,"s":"c","z":1.58,"v":0},{"p":21,"s":"c","z":2.6,"v":0},{"p":21,"s":"c","z":2.65,"v":0.6},{"p":21,"s":"c","z":2.75,"v":0},{"p":21,"s":"c","z":3.3,"v":0},{"p":21,"s":"c","z":3.38,"v":2.89},{"p":21,"s":"c","z":3.66,"v":2.98},{"p":21,"s":"c","z":3.99,"v":3.07},{"p":21,"s":"c","z":4.17,"v":3.03},{"p":21,"s":"c","z":4.43,"v":3.0},{"p":21,"s":"c","z":4.6,"v":2.7},{"p":21,"s":"c","z":4.87,"v":2.38},{"p":21,"s":"c","z":5.2,"v":2.33},{"p":21,"s":"c","z":5.57,"v":2.15},{"p":21,"s":"c","z":5.96,"v":1.92},{"p":21,"s":"c","z":6.4,"v":1.73},{"p":21,"s":"c","z":6.8,"v":1.42},
      {"p":21,"m":0.59,"n":1},{"p":21,"m":0.81,"n":1},{"p":21,"m":1.03,"n":1},{"p":21,"m":1.69,"n":1},{"p":21,"m":1.91,"n":1},{"p":21,"m":2.24,"n":1},

      {"p":22,"s":"a","z":0.59,"v":0},{"p":22,"s":"a","z":0.66,"v":1.04},{"p":22,"s":"a","z":0.75,"v":1.31},{"p":22,"s":"a","z":0.88,"v":1.69},{"p":22,"s":"a","z":1.03,"v":2.01},{"p":22,"s":"a","z":1.18,"v":2.24},{"p":22,"s":"a","z":1.36,"v":2.47},{"p":22,"s":"a","z":1.47,"v":2.7},{"p":22,"s":"a","z":1.62,"v":2.56},{"p":22,"s":"a","z":1.8,"v":2.61},{"p":22,"s":"a","z":1.97,"v":2.75},{"p":22,"s":"a","z":2.19,"v":2.98},{"p":22,"s":"a","z":2.41,"v":3.03},{"p":22,"s":"a","z":2.68,"v":3.17},{"p":22,"s":"a","z":2.94,"v":3.21},{"p":22,"s":"a","z":3.22,"v":3.26},{"p":22,"s":"a","z":3.55,"v":3.35},{"p":22,"s":"a","z":3.82,"v":3.43},{"p":22,"s":"a","z":4.1,"v":3.44},{"p":22,"s":"a","z":4.43,"v":3.35},{"p":22,"s":"a","z":4.87,"v":3.26},{"p":22,"s":"a","z":5.31,"v":3.17},{"p":22,"s":"a","z":5.75,"v":3.07},{"p":22,"s":"a","z":6.18,"v":2.89},{"p":22,"s":"a","z":6.8,"v":2.66},
      {"p":22,"s":"b","z":0.09,"v":1.13},{"p":22,"s":"b","z":0.22,"v":1.31},{"p":22,"s":"b","z":0.37,"v":1.69},{"p":22,"s":"b","z":0.53,"v":1.5},{"p":22,"s":"b","z":0.66,"v":1.59},{"p":22,"s":"b","z":0.81,"v":1.87},{"p":22,"s":"b","z":0.96,"v":1.96},{"p":22,"s":"b","z":1.14,"v":2.15},{"p":22,"s":"b","z":1.32,"v":2.33},{"p":22,"s":"b","z":1.47,"v":2.89},{"p":22,"s":"b","z":1.58,"v":2.52},{"p":22,"s":"b","z":1.8,"v":2.61},{"p":22,"s":"b","z":2.02,"v":2.56},{"p":22,"s":"b","z":2.24,"v":2.66},{"p":22,"s":"b","z":2.41,"v":2.52},{"p":22,"s":"b","z":2.57,"v":2.7},{"p":22,"s":"b","z":2.79,"v":2.56},{"p":22,"s":"b","z":3.0,"v":2.61},{"p":22,"s":"b","z":3.22,"v":2.52},{"p":22,"s":"b","z":3.51,"v":2.56},{"p":22,"s":"b","z":3.82,"v":2.72},{"p":22,"s":"b","z":3.99,"v":2.47},{"p":22,"s":"b","z":4.32,"v":2.38},{"p":22,"s":"b","z":4.65,"v":2.33},{"p":22,"s":"b","z":5.09,"v":2.29},{"p":22,"s":"b","z":5.53,"v":2.24},{"p":22,"s":"b","z":5.75,"v":2.33},{"p":22,"s":"b","z":6.07,"v":1.96},{"p":22,"s":"b","z":6.4,"v":1.92},{"p":22,"s":"b","z":6.8,"v":1.86},
      {"p":22,"s":"c","z":0.81,"v":0},{"p":22,"s":"c","z":0.96,"v":1.31},{"p":22,"s":"c","z":1.1,"v":1.78},{"p":22,"s":"c","z":1.25,"v":1.87},{"p":22,"s":"c","z":1.4,"v":2.43},{"p":22,"s":"c","z":1.47,"v":2.84},{"p":22,"s":"c","z":1.58,"v":2.06},{"p":22,"s":"c","z":1.8,"v":1.96},{"p":22,"s":"c","z":2.02,"v":2.15},{"p":22,"s":"c","z":2.24,"v":1.96},{"p":22,"s":"c","z":2.41,"v":2.33},{"p":22,"s":"c","z":2.57,"v":2.1},{"p":22,"s":"c","z":2.79,"v":2.29},{"p":22,"s":"c","z":3.0,"v":2.15},{"p":22,"s":"c","z":3.22,"v":2.24},{"p":22,"s":"c","z":3.44,"v":2.43},{"p":22,"s":"c","z":3.55,"v":2.29},{"p":22,"s":"c","z":3.82,"v":2.7},{"p":22,"s":"c","z":4.03,"v":2.38},{"p":22,"s":"c","z":4.32,"v":2.19},{"p":22,"s":"c","z":4.76,"v":2.15},{"p":22,"s":"c","z":5.09,"v":2.2},{"p":22,"s":"c","z":5.53,"v":2.24},{"p":22,"s":"c","z":5.75,"v":2.29},{"p":22,"s":"c","z":6.07,"v":1.92},{"p":22,"s":"c","z":6.4,"v":1.87},{"p":22,"s":"c","z":6.8,"v":1.82},
      {"p":22,"m":0.7,"n":1},{"p":22,"m":1.91,"n":2},{"p":22,"m":2.24,"n":1},{"p":22,"m":2.41,"n":1},{"p":22,"m":3.51,"n":1},{"p":22,"m":4.39,"n":1},{"p":22,"m":4.87,"n":2},{"p":22,"m":5.75,"n":2},

      {"p":23,"s":"a","z":0.44,"v":0},{"p":23,"s":"a","z":0.53,"v":1.31},{"p":23,"s":"a","z":0.66,"v":1.87},{"p":23,"s":"a","z":0.75,"v":1.59},{"p":23,"s":"a","z":0.88,"v":2.01},{"p":23,"s":"a","z":0.96,"v":2.24},{"p":23,"s":"a","z":1.14,"v":2.38},{"p":23,"s":"a","z":1.32,"v":2.7},{"p":23,"s":"a","z":1.54,"v":2.75},{"p":23,"s":"a","z":1.8,"v":2.61},{"p":23,"s":"a","z":2.02,"v":2.61},{"p":23,"s":"a","z":2.24,"v":2.7},{"p":23,"s":"a","z":2.46,"v":2.89},{"p":23,"s":"a","z":2.68,"v":3.12},{"p":23,"s":"a","z":2.89,"v":3.31},{"p":23,"s":"a","z":3.11,"v":3.4},{"p":23,"s":"a","z":3.33,"v":3.33},{"p":23,"s":"a","z":3.55,"v":3.26},{"p":23,"s":"a","z":3.77,"v":3.17},{"p":23,"s":"a","z":3.99,"v":3.19},{"p":23,"s":"a","z":4.32,"v":3.07},{"p":23,"s":"a","z":4.76,"v":2.94},{"p":23,"s":"a","z":5.2,"v":2.8},{"p":23,"s":"a","z":5.75,"v":2.61},{"p":23,"s":"a","z":6.18,"v":2.43},{"p":23,"s":"a","z":6.8,"v":2.16},
      {"p":23,"s":"b","z":0.09,"v":1.31},{"p":23,"s":"b","z":0.26,"v":1.13},{"p":23,"s":"b","z":0.44,"v":1.5},{"p":23,"s":"b","z":0.59,"v":1.31},{"p":23,"s":"b","z":0.75,"v":1.69},{"p":23,"s":"b","z":0.92,"v":1.59},{"p":23,"s":"b","z":1.1,"v":1.96},{"p":23,"s":"b","z":1.25,"v":2.15},{"p":23,"s":"b","z":1.4,"v":2.43},{"p":23,"s":"b","z":1.58,"v":2.47},{"p":23,"s":"b","z":1.75,"v":2.15},{"p":23,"s":"b","z":1.91,"v":1.96},{"p":23,"s":"b","z":2.13,"v":2.1},{"p":23,"s":"b","z":2.28,"v":2.15},{"p":23,"s":"b","z":2.46,"v":1.92},{"p":23,"s":"b","z":2.68,"v":1.87},{"p":23,"s":"b","z":2.94,"v":2.94},{"p":23,"s":"b","z":3.22,"v":2.7},{"p":23,"s":"b","z":3.55,"v":2.47},{"p":23,"s":"b","z":3.88,"v":2.24},{"p":23,"s":"b","z":4.17,"v":2.1},{"p":23,"s":"b","z":4.43,"v":1.69},{"p":23,"s":"b","z":4.65,"v":1.64},{"p":23,"s":"b","z":4.98,"v":1.5},{"p":23,"s":"b","z":5.31,"v":1.31},{"p":23,"s":"b","z":5.75,"v":0.99},{"p":23,"s":"b","z":6.18,"v":0.76},{"p":23,"s":"b","z":6.8,"v":0.45},
      {"p":23,"s":"c","z":0.37,"v":0},{"p":23,"s":"c","z":0.48,"v":1.04},{"p":23,"s":"c","z":0.59,"v":0.57},{"p":23,"s":"c","z":0.7,"v":0.94},{"p":23,"s":"c","z":0.88,"v":1.31},{"p":23,"s":"c","z":1.03,"v":1.78},{"p":23,"s":"c","z":1.14,"v":2.15},{"p":23,"s":"c","z":1.32,"v":1.87},{"p":23,"s":"c","z":1.47,"v":1.96},{"p":23,"s":"c","z":1.62,"v":1.59},{"p":23,"s":"c","z":1.84,"v":1.31},{"p":23,"s":"c","z":2.02,"v":1.87},{"p":23,"s":"c","z":2.13,"v":0.94},{"p":23,"s":"c","z":2.24,"v":1.41},{"p":23,"s":"c","z":2.46,"v":1.04},{"p":23,"s":"c","z":2.68,"v":0.57},{"p":23,"s":"c","z":2.81,"v":0},{"p":23,"s":"c","z":2.94,"v":2.98},{"p":23,"s":"c","z":3.22,"v":2.75},{"p":23,"s":"c","z":3.55,"v":2.43},{"p":23,"s":"c","z":3.77,"v":2.24},{"p":23,"s":"c","z":4.03,"v":1.96},{"p":23,"s":"c","z":4.32,"v":1.5},{"p":23,"s":"c","z":4.54,"v":1.55},{"p":23,"s":"c","z":4.87,"v":1.36},{"p":23,"s":"c","z":5.31,"v":1.13},{"p":23,"s":"c","z":5.75,"v":0.9},{"p":23,"s":"c","z":6.18,"v":0.67},{"p":23,"s":"c","z":6.8,"v":0.36},
      {"p":23,"m":0.7,"n":1},{"p":23,"m":0.92,"n":1},{"p":23,"m":1.25,"n":1},{"p":23,"m":1.84,"n":1},{"p":23,"m":3.11,"n":2},{"p":23,"m":4.1,"n":1},{"p":23,"m":4.98,"n":2},{"p":23,"m":5.42,"n":1},

      {"p":24,"s":"a","z":0.44,"v":0},{"p":24,"s":"a","z":0.53,"v":1.13},{"p":24,"s":"a","z":0.66,"v":1.41},{"p":24,"s":"a","z":0.81,"v":1.87},{"p":24,"s":"a","z":0.96,"v":2.15},{"p":24,"s":"a","z":1.1,"v":2.33},{"p":24,"s":"a","z":1.25,"v":2.61},{"p":24,"s":"a","z":1.4,"v":2.89},{"p":24,"s":"a","z":1.58,"v":2.7},{"p":24,"s":"a","z":1.75,"v":3.07},{"p":24,"s":"a","z":1.91,"v":3.17},{"p":24,"s":"a","z":2.13,"v":3.09},{"p":24,"s":"a","z":2.35,"v":3.17},{"p":24,"s":"a","z":2.57,"v":3.07},{"p":24,"s":"a","z":2.85,"v":3.09},{"p":24,"s":"a","z":3.16,"v":3.07},{"p":24,"s":"a","z":3.44,"v":3.03},{"p":24,"s":"a","z":3.77,"v":2.94},{"p":24,"s":"a","z":4.1,"v":2.84},{"p":24,"s":"a","z":4.54,"v":2.7},{"p":24,"s":"a","z":4.98,"v":2.56},{"p":24,"s":"a","z":5.42,"v":2.38},{"p":24,"s":"a","z":5.86,"v":2.24},{"p":24,"s":"a","z":6.29,"v":2.1},{"p":24,"s":"a","z":6.8,"v":1.9},
      {"p":24,"s":"b","z":0.15,"v":1.31},{"p":24,"s":"b","z":0.31,"v":1.5},{"p":24,"s":"b","z":0.44,"v":1.31},{"p":24,"s":"b","z":0.59,"v":2.24},{"p":24,"s":"b","z":0.75,"v":2.15},{"p":24,"s":"b","z":0.88,"v":2.29},{"p":24,"s":"b","z":1.03,"v":2.06},{"p":24,"s":"b","z":1.18,"v":2.43},{"p":24,"s":"b","z":1.36,"v":1.87},{"p":24,"s":"b","z":1.54,"v":2.24},{"p":24,"s":"b","z":1.75,"v":2.61},{"p":24,"s":"b","z":1.97,"v":2.75},{"p":24,"s":"b","z":2.13,"v":2.66},{"p":24,"s":"b","z":2.35,"v":2.24},{"p":24,"s":"b","z":2.57,"v":1.96},{"p":24,"s":"b","z":2.79,"v":1.78},{"p":24,"s":"b","z":3.0,"v":1.5},{"p":24,"s":"b","z":3.29,"v":1.41},{"p":24,"s":"b","z":3.55,"v":1.13},{"p":24,"s":"b","z":3.88,"v":1.04},{"p":24,"s":"b","z":4.21,"v":0.9},{"p":24,"s":"b","z":4.54,"v":0.81},{"p":24,"s":"b","z":4.87,"v":0.76},{"p":24,"s":"b","z":5.2,"v":0.67},{"p":24,"s":"b","z":5.53,"v":0.48},{"p":24,"s":"b","z":5.75,"v":0},
      {"p":24,"s":"c","z":0.48,"v":0},{"p":24,"s":"c","z":0.59,"v":1.04},{"p":24,"s":"c","z":0.7,"v":1.41},{"p":24,"s":"c","z":0.81,"v":1.04},{"p":24,"s":"c","z":0.96,"v":1.78},{"p":24,"s":"c","z":1.1,"v":1.31},{"p":24,"s":"c","z":1.25,"v":2.24},{"p":24,"s":"c","z":1.36,"v":1.59},{"p":24,"s":"c","z":1.47,"v":2.15},{"p":24,"s":"c","z":1.62,"v":2.2},{"p":24,"s":"c","z":1.8,"v":2.43},{"p":24,"s":"c","z":1.97,"v":2.7},{"p":24,"s":"c","z":2.13,"v":2.61},{"p":24,"s":"c","z":2.35,"v":2.19},{"p":24,"s":"c","z":2.57,"v":1.87},{"p":24,"s":"c","z":2.79,"v":1.69},{"p":24,"s":"c","z":3.0,"v":1.45},{"p":24,"s":"c","z":3.29,"v":1.36},{"p":24,"s":"c","z":3.55,"v":1.08},{"p":24,"s":"c","z":3.88,"v":0.99},{"p":24,"s":"c","z":4.21,"v":0.85},{"p":24,"s":"c","z":4.54,"v":0.81},{"p":24,"s":"c","z":4.87,"v":0.74},{"p":24,"s":"c","z":5.2,"v":0.62},{"p":24,"s":"c","z":5.53,"v":0.43},{"p":24,"s":"c","z":5.7,"v":0},
      {"p":24,"m":1.75,"n":1},{"p":24,"m":1.91,"n":1},{"p":24,"m":2.13,"n":1},{"p":24,"m":4.65,"n":1},{"p":24,"m":4.87,"n":1},

      {"p":25,"s":"a","z":0.31,"v":0},{"p":25,"s":"a","z":0.37,"v":0.85},{"p":25,"s":"a","z":0.48,"v":1.31},{"p":25,"s":"a","z":0.59,"v":1.04},{"p":25,"s":"a","z":0.7,"v":1.5},{"p":25,"s":"a","z":0.81,"v":1.31},{"p":25,"s":"a","z":0.92,"v":1.87},{"p":25,"s":"a","z":1.1,"v":2.24},{"p":25,"s":"a","z":1.25,"v":2.43},{"p":25,"s":"a","z":1.4,"v":2.7},{"p":25,"s":"a","z":1.62,"v":2.75},{"p":25,"s":"a","z":1.8,"v":2.89},{"p":25,"s":"a","z":2.02,"v":2.98},{"p":25,"s":"a","z":2.24,"v":3.17},{"p":25,"s":"a","z":2.5,"v":3.06},{"p":25,"s":"a","z":2.72,"v":3.12},{"p":25,"s":"a","z":3.0,"v":3.07},{"p":25,"s":"a","z":3.33,"v":3.12},{"p":25,"s":"a","z":3.66,"v":3.17},{"p":25,"s":"a","z":3.99,"v":3.19},{"p":25,"s":"a","z":4.21,"v":3.07},{"p":25,"s":"a","z":4.65,"v":2.94},{"p":25,"s":"a","z":5.09,"v":2.8},{"p":25,"s":"a","z":5.53,"v":2.61},{"p":25,"s":"a","z":5.96,"v":2.47},{"p":25,"s":"a","z":6.4,"v":2.29},{"p":25,"s":"a","z":6.8,"v":2.07},
      {"p":25,"s":"b","z":0.09,"v":1.41},{"p":25,"s":"b","z":0.22,"v":1.59},{"p":25,"s":"b","z":0.31,"v":1.31},{"p":25,"s":"b","z":0.44,"v":1.5},{"p":25,"s":"b","z":0.59,"v":1.92},{"p":25,"s":"b","z":0.75,"v":1.87},{"p":25,"s":"b","z":0.92,"v":1.73},{"p":25,"s":"b","z":1.14,"v":1.31},{"p":25,"s":"b","z":1.36,"v":1.22},{"p":25,"s":"b","z":1.62,"v":1.31},{"p":25,"s":"b","z":1.91,"v":1.59},{"p":25,"s":"b","z":2.13,"v":1.69},{"p":25,"s":"b","z":2.35,"v":1.69},{"p":25,"s":"b","z":2.63,"v":1.87},{"p":25,"s":"b","z":2.89,"v":2.1},{"p":25,"s":"b","z":3.22,"v":2.24},{"p":25,"s":"b","z":3.51,"v":2.47},{"p":25,"s":"b","z":3.73,"v":2.43},{"p":25,"s":"b","z":3.99,"v":2.8},{"p":25,"s":"b","z":4.25,"v":2.52},{"p":25,"s":"b","z":4.65,"v":2.15},{"p":25,"s":"b","z":5.09,"v":1.73},{"p":25,"s":"b","z":5.53,"v":1.69},{"p":25,"s":"b","z":5.96,"v":1.64},{"p":25,"s":"b","z":6.29,"v":1.04},{"p":25,"s":"b","z":6.51,"v":0.57},{"p":25,"s":"b","z":6.8,"v":0.52},
      {"p":25,"s":"c","z":0.44,"v":0},{"p":25,"s":"c","z":0.53,"v":1.13},{"p":25,"s":"c","z":0.66,"v":1.69},{"p":25,"s":"c","z":0.75,"v":1.31},{"p":25,"s":"c","z":0.88,"v":1.64},{"p":25,"s":"c","z":1.03,"v":1.41},{"p":25,"s":"c","z":1.14,"v":1.04},{"p":25,"s":"c","z":1.36,"v":1.27},{"p":25,"s":"c","z":1.58,"v":1.41},{"p":25,"s":"c","z":1.8,"v":1.31},{"p":25,"s":"c","z":2.02,"v":1.41},{"p":25,"s":"c","z":2.24,"v":1.5},{"p":25,"s":"c","z":2.46,"v":1.64},{"p":25,"s":"c","z":2.68,"v":1.78},{"p":25,"s":"c","z":2.89,"v":1.96},{"p":25,"s":"c","z":3.22,"v":2.24},{"p":25,"s":"c","z":3.51,"v":2.43},{"p":25,"s":"c","z":3.73,"v":2.38},{"p":25,"s":"c","z":3.99,"v":2.84},{"p":25,"s":"c","z":4.25,"v":2.52},{"p":25,"s":"c","z":4.65,"v":2.1},{"p":25,"s":"c","z":5.09,"v":1.73},{"p":25,"s":"c","z":5.53,"v":1.64},{"p":25,"s":"c","z":5.96,"v":1.64},{"p":25,"s":"c","z":6.29,"v":1.04},{"p":25,"s":"c","z":6.51,"v":0.57},{"p":25,"s":"c","z":6.8,"v":0.52},
      {"p":25,"m":0.48,"n":1}
    ]
  },
  "transform": [
    {"lookup": "p", "from": {"data": {"values": [
      {"p":1,"r":1,"c":1},{"p":2,"r":1,"c":2},{"p":3,"r":1,"c":3},{"p":4,"r":1,"c":4},{"p":5,"r":1,"c":5},
      {"p":6,"r":2,"c":1},{"p":7,"r":2,"c":2},{"p":8,"r":2,"c":3},{"p":9,"r":2,"c":4},{"p":10,"r":2,"c":5},
      {"p":11,"r":3,"c":1},{"p":12,"r":3,"c":2},{"p":13,"r":3,"c":3},{"p":14,"r":3,"c":4},{"p":15,"r":3,"c":5},
      {"p":16,"r":4,"c":1},{"p":17,"r":4,"c":2},{"p":18,"r":4,"c":3},{"p":19,"r":4,"c":4},{"p":20,"r":4,"c":5},
      {"p":21,"r":5,"c":1},{"p":22,"r":5,"c":2},{"p":23,"r":5,"c":3},{"p":24,"r":5,"c":4},{"p":25,"r":5,"c":5}
    ]}, "key": "p", "fields": ["r", "c"]}}
  ],
  "facet": {
    "row": {"field": "r", "type": "ordinal", "title": null, "header": {"labels": false, "title": null}},
    "column": {"field": "c", "type": "ordinal", "title": null, "header": {"labels": false, "title": null}}
  },
  "spacing": 0,
  "bounds": "flush",
  "resolve": {"scale": {"y": "independent"}},
  "spec": {
    "width": 129.6,
    "height": 134.8,
    "layer": [
      {
        "layer": [
          {
            "transform": [{"filter": "isValid(datum.v)"}],
            "mark": {"type": "line", "strokeWidth": 1.6, "clip": true},
            "encoding": {
              "x": {"field": "z", "type": "quantitative", "scale": {"domain": [0, 6.8], "nice": false, "zero": false},
                    "axis": {"values": [0, 2, 4, 6], "title": null}},
              "y": {"field": "v", "type": "quantitative", "scale": {"domain": [0.32, 4.03], "nice": false, "zero": false}, "axis": null},
              "color": {"field": "s", "type": "nominal", "scale": {"domain": ["a", "b", "c"], "range": ["#0000ff", "#000000", "#008000"]}, "legend": null}
            }
          },
          {
            "transform": [{"filter": "isValid(datum.lab)"}],
            "mark": {"type": "text", "align": "left", "baseline": "middle", "font": "DejaVu Sans", "fontSize": 15, "color": "#8c8c8c"},
            "encoding": {"x": {"datum": 0.37}, "y": {"datum": 3.55, "axis": null}, "text": {"field": "lab"}}
          },
          {
            "transform": [{"filter": "datum.leg == 1"}],
            "mark": {"type": "text", "align": "left", "baseline": "middle", "font": "DejaVu Serif", "fontSize": 11, "color": "black", "clip": true},
            "encoding": {"x": {"datum": 3.42}, "y": {"datum": 1.87, "axis": null}, "text": {"value": "5R500"}}
          },
          {
            "transform": [{"filter": "datum.leg == 1"}],
            "mark": {"type": "text", "align": "left", "baseline": "middle", "font": "DejaVu Serif", "fontSize": 11, "color": "#008000", "clip": true},
            "encoding": {"x": {"datum": 3.42}, "y": {"datum": 1.585, "axis": null}, "text": {"value": "R500"}}
          },
          {
            "transform": [{"filter": "datum.leg == 1"}],
            "mark": {"type": "text", "align": "left", "baseline": "middle", "font": "DejaVu Serif", "fontSize": 11, "color": "#0000ff", "clip": true},
            "encoding": {"x": {"datum": 3.42}, "y": {"datum": 1.3, "axis": null}, "text": {"value": "protocluster"}}
          },
          {
            "transform": [{"filter": "datum.leg == 1"}],
            "mark": {"type": "text", "align": "left", "baseline": "middle", "font": "DejaVu Serif", "fontSize": 11, "color": "#ff0000", "clip": true},
            "encoding": {"x": {"datum": 3.42}, "y": {"datum": 1.015, "axis": null}, "text": {"value": "Merger"}}
          },
          {
            "transform": [{"filter": "isValid(datum.lab) && datum.c == 1"}],
            "mark": {"type": "text", "align": "right", "baseline": "middle", "font": "DejaVu Serif", "fontSize": 17, "color": "black"},
            "encoding": {"x": {"datum": -0.37}, "y": {"datum": 1, "axis": null}, "text": {"value": "10¹"}}
          },
          {
            "transform": [{"filter": "isValid(datum.lab) && datum.c == 1"}],
            "mark": {"type": "text", "align": "right", "baseline": "middle", "font": "DejaVu Serif", "fontSize": 17, "color": "black"},
            "encoding": {"x": {"datum": -0.37}, "y": {"datum": 2, "axis": null}, "text": {"value": "10²"}}
          },
          {
            "transform": [{"filter": "isValid(datum.lab) && datum.c == 1"}],
            "mark": {"type": "text", "align": "right", "baseline": "middle", "font": "DejaVu Serif", "fontSize": 17, "color": "black"},
            "encoding": {"x": {"datum": -0.37}, "y": {"datum": 3, "axis": null}, "text": {"value": "10³"}}
          },
          {
            "transform": [{"filter": "datum.p == 11 && isValid(datum.lab)"}],
            "mark": {"type": "text", "align": "center", "baseline": "middle", "angle": 270, "font": "DejaVu Serif", "fontSize": 19, "color": "black"},
            "encoding": {"x": {"datum": -3.41}, "y": {"datum": 2.25, "axis": null}, "text": {"value": "SFR [M⊙ yr⁻¹]"}}
          },
          {
            "transform": [{"filter": "datum.p == 23 && isValid(datum.lab)"}],
            "mark": {"type": "text", "align": "center", "baseline": "middle", "font": "DejaVu Serif", "fontSize": 19, "color": "black"},
            "encoding": {"x": {"datum": 3.4}, "y": {"datum": -0.58, "axis": null}, "text": {"value": "Redshift"}}
          },
          {
            "transform": [{"filter": "datum.p == 15 && isValid(datum.lab)"}],
            "mark": {"type": "text", "align": "center", "baseline": "middle", "angle": 270, "font": "DejaVu Serif", "fontSize": 22, "fontStyle": "italic", "color": "black"},
            "encoding": {"x": {"datum": 8.98}, "y": {"datum": 0.73, "axis": null}, "text": {"value": "N"}}
          },
          {
            "transform": [{"filter": "datum.p == 15 && isValid(datum.lab)"}],
            "mark": {"type": "text", "align": "center", "baseline": "middle", "angle": 270, "font": "DejaVu Serif", "fontSize": 14, "color": "black"},
            "encoding": {"x": {"datum": 9.16}, "y": {"datum": 2.55, "axis": null}, "text": {"value": "merger, >1/3"}}
          },
          {
            "transform": [{"filter": "isValid(datum.lab)"}],
            "mark": {"type": "rule", "color": "black", "strokeWidth": 1},
            "encoding": {"x": {"datum": 0}, "x2": {"datum": 0.26}, "y": {"datum": 1, "axis": null}}
          },
          {
            "transform": [{"filter": "isValid(datum.lab)"}],
            "mark": {"type": "rule", "color": "black", "strokeWidth": 1},
            "encoding": {"x": {"datum": 0}, "x2": {"datum": 0.26}, "y": {"datum": 2, "axis": null}}
          },
          {
            "transform": [{"filter": "isValid(datum.lab)"}],
            "mark": {"type": "rule", "color": "black", "strokeWidth": 1},
            "encoding": {"x": {"datum": 0}, "x2": {"datum": 0.26}, "y": {"datum": 3, "axis": null}}
          },
          {
            "transform": [{"filter": "isValid(datum.lab)"}],
            "mark": {"type": "rule", "color": "black", "strokeWidth": 1},
            "encoding": {"x": {"datum": 2}, "y": {"datum": 0.32, "axis": null}, "y2": {"datum": 0.46}}
          },
          {
            "transform": [{"filter": "isValid(datum.lab)"}],
            "mark": {"type": "rule", "color": "black", "strokeWidth": 1},
            "encoding": {"x": {"datum": 4}, "y": {"datum": 0.32, "axis": null}, "y2": {"datum": 0.46}}
          },
          {
            "transform": [{"filter": "isValid(datum.lab)"}],
            "mark": {"type": "rule", "color": "black", "strokeWidth": 1},
            "encoding": {"x": {"datum": 6}, "y": {"datum": 0.32, "axis": null}, "y2": {"datum": 0.46}}
          }
        ]
      },
      {
        "layer": [
          {
            "transform": [{"filter": "isValid(datum.n)"}],
            "mark": {"type": "bar", "width": 4.5, "fill": "#ff0000", "fillOpacity": 0.4, "stroke": "#ff0000", "strokeOpacity": 0.3, "strokeWidth": 1, "clip": true},
            "encoding": {
              "x": {"field": "m", "type": "quantitative", "scale": {"domain": [0, 6.8], "nice": false, "zero": false}},
              "y": {"field": "n", "type": "quantitative", "scale": {"domain": [0, 9.8], "nice": false}, "axis": null}
            }
          },
          {
            "transform": [{"filter": "isValid(datum.lab)"}],
            "mark": {"type": "rule", "color": "#8b0000", "strokeWidth": 1.5},
            "encoding": {"y": {"datum": 0, "axis": null}}
          },
          {
            "transform": [{"filter": "isValid(datum.lab)"}],
            "mark": {"type": "rule", "color": "black", "strokeWidth": 1},
            "encoding": {"x": {"datum": 6.54}, "x2": {"datum": 6.8}, "y": {"datum": 5, "axis": null}}
          },
          {
            "transform": [{"filter": "isValid(datum.lab) && datum.c == 5"}],
            "mark": {"type": "text", "align": "left", "baseline": "middle", "font": "DejaVu Serif", "fontSize": 17, "color": "black"},
            "encoding": {"x": {"datum": 7.25}, "y": {"datum": 0, "axis": null}, "text": {"value": "0"}}
          },
          {
            "transform": [{"filter": "isValid(datum.lab) && datum.c == 5"}],
            "mark": {"type": "text", "align": "left", "baseline": "middle", "font": "DejaVu Serif", "fontSize": 17, "color": "black"},
            "encoding": {"x": {"datum": 7.25}, "y": {"datum": 5, "axis": null}, "text": {"value": "5"}}
          }
        ]
      }
    ],
    "resolve": {"scale": {"y": "independent"}}
  },
  "config": {
    "font": "DejaVu Serif",
    "view": {"stroke": "black", "strokeWidth": 1.2},
    "axis": {"grid": false, "ticks": false, "domain": false, "labelFont": "DejaVu Serif", "labelFontSize": 17, "labelColor": "black",
             "titleFont": "DejaVu Serif", "titleFontSize": 19, "titleFontWeight": "normal", "titleColor": "black"},
    "axisX": {"labelPadding": 2, "labelFlush": false}
  }
}
